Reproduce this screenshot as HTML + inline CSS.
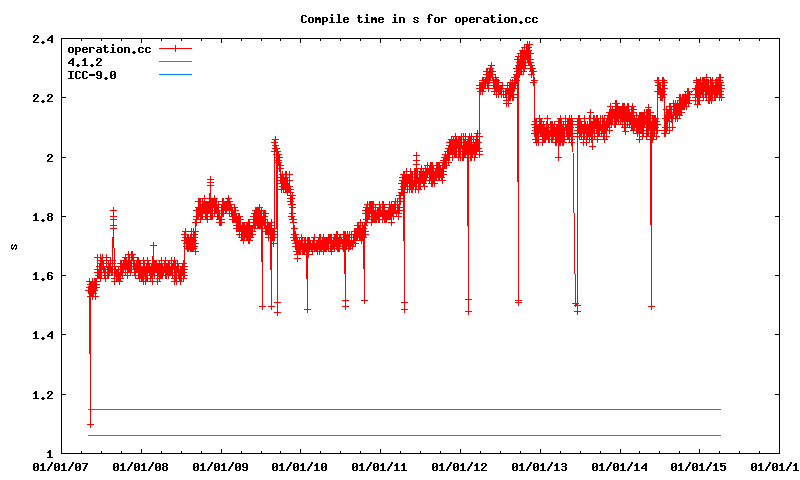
<!DOCTYPE html>
<html><head><meta charset="utf-8"><title>Compile time in s for operation.cc</title>
<style>
html,body{margin:0;padding:0;background:#fff;}
body{width:800px;height:480px;overflow:hidden;}
svg{display:block;}
</style></head><body>
<svg width="800" height="480" viewBox="0 0 800 480">
<rect width="800" height="480" fill="#fff"/>
<g shape-rendering="crispEdges" fill="none" stroke-width="1">
<path d="M61.5 38.5H779.5V453.5H61.5Z" stroke="#000"/>
<path d="M61 453.5h5M780 453.5h-5M61 394.5h5M780 394.5h-5M61 334.5h5M780 334.5h-5M61 275.5h5M780 275.5h-5M61 216.5h5M780 216.5h-5M61 157.5h5M780 157.5h-5M61 97.5h5M780 97.5h-5M61 38.5h5M780 38.5h-5M61.5 454v-5M61.5 38v5M81.5 454v-3M81.5 38v3M101.5 454v-3M101.5 38v3M121.5 454v-3M121.5 38v3M141.5 454v-5M141.5 38v5M161.5 454v-3M161.5 38v3M181.5 454v-3M181.5 38v3M201.5 454v-3M201.5 38v3M221.5 454v-5M221.5 38v5M241.5 454v-3M241.5 38v3M261.5 454v-3M261.5 38v3M280.5 454v-3M280.5 38v3M300.5 454v-5M300.5 38v5M320.5 454v-3M320.5 38v3M340.5 454v-3M340.5 38v3M360.5 454v-3M360.5 38v3M380.5 454v-5M380.5 38v5M400.5 454v-3M400.5 38v3M420.5 454v-3M420.5 38v3M440.5 454v-3M440.5 38v3M460.5 454v-5M460.5 38v5M480.5 454v-3M480.5 38v3M500.5 454v-3M500.5 38v3M520.5 454v-3M520.5 38v3M540.5 454v-5M540.5 38v5M560.5 454v-3M560.5 38v3M580.5 454v-3M580.5 38v3M600.5 454v-3M600.5 38v3M620.5 454v-5M620.5 38v5M639.5 454v-3M639.5 38v3M659.5 454v-3M659.5 38v3M679.5 454v-3M679.5 38v3M699.5 454v-5M699.5 38v5M719.5 454v-3M719.5 38v3M739.5 454v-3M739.5 38v3M759.5 454v-3M759.5 38v3M779.5 454v-5M779.5 38v5" stroke="#000"/>
<path d="M88 435.5H721" stroke="#00c000"/>
<path d="M88 409.5H721" stroke="#0080ff"/>
<path d="M159 48.5H192" stroke="#ff0000"/><path d="M175.5 45v7" stroke="#ff0000"/>
<path d="M159 61.5H192" stroke="#00c000"/>
<path d="M159 74.5H192" stroke="#0080ff"/>
<path d="M88.5 290.5L88.5 290.5L89.5 281.5L89.5 287.5L89.5 281.5L89.5 281.5L90.5 424.5L90.5 290.5L90.5 284.5L90.5 296.5L91.5 293.5L91.5 290.5L91.5 284.5L91.5 290.5L92.5 296.5L92.5 281.5L92.5 284.5L93.5 287.5L93.5 290.5L93.5 293.5L93.5 284.5L94.5 281.5L94.5 287.5L94.5 290.5L94.5 290.5L95.5 287.5L95.5 296.5L95.5 281.5L95.5 287.5L95.5 284.5L96.5 287.5L96.5 281.5L96.5 287.5L96.5 284.5L97.5 272.5L97.5 257.5L97.5 269.5L97.5 269.5L98.5 272.5L98.5 275.5L98.5 275.5L98.5 275.5L99.5 269.5L99.5 275.5L99.5 269.5L99.5 266.5L99.5 272.5L100.5 257.5L100.5 278.5L100.5 272.5L100.5 272.5L101.5 260.5L101.5 275.5L101.5 263.5L101.5 263.5L102.5 257.5L102.5 266.5L102.5 266.5L102.5 257.5L103.5 269.5L103.5 269.5L103.5 263.5L103.5 263.5L104.5 275.5L104.5 269.5L104.5 269.5L104.5 272.5L105.5 272.5L105.5 278.5L105.5 275.5L106.5 260.5L106.5 257.5L106.5 263.5L106.5 260.5L107.5 275.5L107.5 269.5L107.5 272.5L108.5 275.5L108.5 269.5L108.5 266.5L108.5 263.5L109.5 269.5L109.5 266.5L109.5 266.5L109.5 272.5L110.5 263.5L110.5 260.5L110.5 269.5L110.5 266.5L110.5 266.5L111.5 272.5L111.5 272.5L111.5 269.5L112.5 263.5L112.5 263.5L112.5 260.5L112.5 272.5L112.5 266.5L113.5 210.5L113.5 216.5L113.5 219.5L113.5 225.5L113.5 228.5L114.5 266.5L114.5 269.5L114.5 278.5L114.5 281.5L115.5 272.5L115.5 269.5L115.5 269.5L115.5 269.5L116.5 278.5L116.5 272.5L116.5 278.5L116.5 278.5L117.5 278.5L117.5 272.5L117.5 272.5L117.5 275.5L118.5 272.5L118.5 278.5L118.5 272.5L118.5 269.5L118.5 272.5L119.5 278.5L119.5 281.5L119.5 275.5L119.5 275.5L120.5 269.5L120.5 263.5L120.5 266.5L120.5 278.5L121.5 269.5L121.5 266.5L121.5 272.5L121.5 263.5L122.5 269.5L122.5 272.5L122.5 275.5L122.5 266.5L123.5 263.5L123.5 269.5L123.5 269.5L123.5 266.5L124.5 260.5L124.5 266.5L124.5 266.5L124.5 266.5L125.5 272.5L125.5 266.5L125.5 257.5L125.5 257.5L126.5 266.5L126.5 263.5L126.5 263.5L126.5 260.5L127.5 275.5L127.5 263.5L127.5 263.5L127.5 266.5L128.5 269.5L128.5 254.5L128.5 266.5L129.5 263.5L129.5 257.5L129.5 269.5L129.5 257.5L130.5 272.5L130.5 263.5L130.5 266.5L131.5 269.5L131.5 269.5L131.5 254.5L131.5 254.5L132.5 257.5L132.5 254.5L132.5 254.5L132.5 257.5L133.5 257.5L133.5 263.5L133.5 266.5L133.5 257.5L133.5 266.5L134.5 269.5L134.5 272.5L134.5 263.5L134.5 269.5L135.5 272.5L135.5 275.5L135.5 266.5L135.5 272.5L136.5 269.5L136.5 269.5L136.5 263.5L136.5 266.5L136.5 269.5L137.5 266.5L137.5 260.5L137.5 269.5L138.5 266.5L138.5 275.5L138.5 275.5L138.5 260.5L139.5 278.5L139.5 263.5L139.5 269.5L139.5 266.5L140.5 263.5L140.5 275.5L140.5 266.5L140.5 269.5L141.5 269.5L141.5 269.5L141.5 278.5L141.5 272.5L142.5 272.5L142.5 269.5L142.5 272.5L142.5 278.5L143.5 278.5L143.5 272.5L143.5 260.5L143.5 281.5L144.5 272.5L144.5 263.5L144.5 269.5L144.5 269.5L144.5 269.5L145.5 269.5L145.5 281.5L145.5 272.5L146.5 278.5L146.5 269.5L146.5 272.5L146.5 266.5L147.5 269.5L147.5 260.5L147.5 278.5L147.5 272.5L148.5 269.5L148.5 266.5L148.5 263.5L148.5 269.5L148.5 269.5L149.5 266.5L149.5 272.5L149.5 266.5L150.5 278.5L150.5 278.5L150.5 269.5L151.5 266.5L151.5 275.5L151.5 272.5L151.5 266.5L152.5 281.5L152.5 272.5L152.5 266.5L152.5 266.5L153.5 245.5L153.5 269.5L153.5 263.5L153.5 269.5L153.5 272.5L154.5 275.5L154.5 275.5L154.5 263.5L155.5 266.5L155.5 263.5L155.5 266.5L155.5 269.5L156.5 266.5L156.5 269.5L156.5 266.5L156.5 263.5L156.5 266.5L157.5 275.5L157.5 266.5L157.5 269.5L157.5 281.5L158.5 272.5L158.5 266.5L158.5 272.5L158.5 272.5L159.5 278.5L159.5 263.5L159.5 269.5L159.5 275.5L160.5 275.5L160.5 266.5L160.5 266.5L160.5 272.5L161.5 269.5L161.5 272.5L161.5 260.5L161.5 269.5L161.5 275.5L162.5 275.5L162.5 266.5L162.5 272.5L162.5 275.5L163.5 269.5L163.5 272.5L163.5 269.5L163.5 269.5L164.5 263.5L164.5 266.5L164.5 269.5L164.5 269.5L165.5 260.5L165.5 275.5L165.5 272.5L165.5 275.5L166.5 266.5L166.5 272.5L166.5 266.5L166.5 275.5L167.5 266.5L167.5 272.5L167.5 266.5L167.5 272.5L168.5 272.5L168.5 275.5L168.5 263.5L169.5 263.5L169.5 266.5L169.5 272.5L169.5 269.5L169.5 269.5L170.5 272.5L170.5 269.5L170.5 269.5L171.5 272.5L171.5 272.5L171.5 272.5L171.5 260.5L172.5 266.5L172.5 266.5L172.5 272.5L172.5 275.5L173.5 263.5L173.5 266.5L173.5 266.5L173.5 266.5L174.5 260.5L174.5 278.5L174.5 260.5L174.5 281.5L175.5 275.5L175.5 263.5L175.5 272.5L175.5 272.5L175.5 278.5L176.5 281.5L176.5 269.5L176.5 269.5L176.5 272.5L177.5 263.5L177.5 269.5L177.5 263.5L177.5 263.5L178.5 269.5L178.5 272.5L178.5 275.5L178.5 266.5L178.5 266.5L179.5 272.5L179.5 275.5L179.5 278.5L180.5 269.5L180.5 272.5L180.5 272.5L180.5 281.5L180.5 272.5L181.5 269.5L181.5 272.5L181.5 278.5L182.5 269.5L182.5 272.5L182.5 266.5L182.5 266.5L183.5 278.5L183.5 263.5L183.5 272.5L183.5 266.5L184.5 269.5L184.5 275.5L184.5 266.5L184.5 240.5L184.5 234.5L185.5 231.5L185.5 234.5L185.5 237.5L185.5 240.5L186.5 240.5L186.5 240.5L186.5 243.5L186.5 246.5L187.5 237.5L187.5 243.5L187.5 248.5L187.5 237.5L188.5 248.5L188.5 237.5L188.5 243.5L188.5 240.5L189.5 243.5L189.5 246.5L189.5 240.5L189.5 240.5L190.5 246.5L190.5 237.5L190.5 240.5L190.5 248.5L191.5 240.5L191.5 240.5L191.5 240.5L191.5 231.5L191.5 248.5L192.5 240.5L192.5 240.5L192.5 248.5L193.5 240.5L193.5 234.5L193.5 231.5L193.5 240.5L193.5 248.5L194.5 246.5L194.5 237.5L194.5 234.5L194.5 234.5L194.5 234.5L195.5 251.5L195.5 243.5L195.5 231.5L195.5 222.5L196.5 222.5L196.5 219.5L196.5 210.5L196.5 219.5L196.5 216.5L197.5 210.5L197.5 216.5L197.5 210.5L198.5 207.5L198.5 201.5L198.5 201.5L198.5 216.5L198.5 207.5L199.5 207.5L199.5 213.5L199.5 207.5L199.5 201.5L199.5 210.5L200.5 219.5L200.5 213.5L200.5 201.5L200.5 210.5L201.5 207.5L201.5 216.5L201.5 210.5L201.5 210.5L202.5 201.5L202.5 207.5L202.5 216.5L202.5 216.5L203.5 210.5L203.5 207.5L203.5 204.5L203.5 207.5L204.5 210.5L204.5 198.5L204.5 207.5L205.5 216.5L205.5 204.5L205.5 216.5L205.5 204.5L205.5 207.5L206.5 204.5L206.5 216.5L206.5 204.5L206.5 204.5L206.5 210.5L207.5 204.5L207.5 219.5L207.5 207.5L208.5 210.5L208.5 204.5L208.5 207.5L208.5 207.5L209.5 210.5L209.5 207.5L209.5 198.5L209.5 207.5L210.5 179.5L210.5 182.5L210.5 185.5L210.5 216.5L210.5 213.5L210.5 207.5L210.5 204.5L210.5 210.5L211.5 201.5L211.5 216.5L211.5 201.5L212.5 201.5L212.5 210.5L212.5 216.5L212.5 207.5L212.5 210.5L213.5 201.5L213.5 204.5L213.5 201.5L214.5 198.5L214.5 207.5L214.5 198.5L214.5 213.5L214.5 213.5L215.5 207.5L215.5 210.5L215.5 201.5L215.5 201.5L216.5 201.5L216.5 210.5L216.5 204.5L216.5 207.5L217.5 216.5L217.5 210.5L217.5 207.5L217.5 210.5L218.5 213.5L218.5 204.5L218.5 213.5L218.5 216.5L219.5 219.5L219.5 222.5L219.5 216.5L219.5 213.5L220.5 219.5L220.5 222.5L220.5 219.5L221.5 222.5L221.5 213.5L221.5 219.5L221.5 210.5L221.5 207.5L222.5 213.5L222.5 213.5L222.5 213.5L222.5 201.5L223.5 204.5L223.5 201.5L223.5 213.5L224.5 207.5L224.5 207.5L224.5 204.5L224.5 207.5L225.5 204.5L225.5 204.5L225.5 204.5L225.5 210.5L226.5 207.5L226.5 204.5L226.5 210.5L227.5 207.5L227.5 207.5L227.5 201.5L227.5 207.5L228.5 207.5L228.5 198.5L228.5 207.5L228.5 207.5L229.5 201.5L229.5 213.5L229.5 204.5L229.5 204.5L230.5 207.5L230.5 204.5L230.5 207.5L231.5 207.5L231.5 210.5L231.5 210.5L231.5 213.5L232.5 219.5L232.5 210.5L232.5 213.5L232.5 216.5L233.5 216.5L233.5 219.5L233.5 213.5L233.5 213.5L234.5 207.5L234.5 216.5L234.5 219.5L234.5 216.5L235.5 219.5L235.5 213.5L235.5 210.5L235.5 219.5L236.5 219.5L236.5 228.5L236.5 225.5L236.5 216.5L237.5 219.5L237.5 228.5L237.5 228.5L237.5 225.5L238.5 219.5L238.5 219.5L238.5 216.5L238.5 228.5L239.5 225.5L239.5 219.5L239.5 216.5L239.5 234.5L240.5 228.5L240.5 225.5L240.5 228.5L240.5 219.5L241.5 237.5L241.5 234.5L241.5 228.5L242.5 225.5L242.5 237.5L242.5 231.5L242.5 225.5L243.5 237.5L243.5 240.5L243.5 228.5L243.5 225.5L244.5 225.5L244.5 234.5L244.5 237.5L244.5 225.5L244.5 228.5L245.5 234.5L245.5 231.5L245.5 231.5L245.5 228.5L246.5 225.5L246.5 237.5L246.5 231.5L246.5 231.5L246.5 228.5L247.5 231.5L247.5 225.5L247.5 225.5L247.5 237.5L248.5 231.5L248.5 240.5L248.5 222.5L248.5 228.5L249.5 225.5L249.5 225.5L249.5 222.5L249.5 240.5L250.5 231.5L250.5 237.5L250.5 237.5L250.5 228.5L251.5 228.5L251.5 231.5L251.5 234.5L252.5 234.5L252.5 234.5L252.5 231.5L252.5 231.5L252.5 234.5L253.5 216.5L253.5 222.5L253.5 225.5L253.5 219.5L254.5 228.5L254.5 225.5L254.5 228.5L254.5 213.5L254.5 225.5L255.5 225.5L255.5 210.5L255.5 216.5L255.5 216.5L256.5 219.5L256.5 222.5L256.5 213.5L256.5 210.5L257.5 225.5L257.5 216.5L257.5 216.5L257.5 210.5L258.5 219.5L258.5 225.5L258.5 210.5L258.5 219.5L259.5 225.5L259.5 207.5L259.5 219.5L259.5 213.5L260.5 225.5L260.5 216.5L260.5 213.5L260.5 222.5L261.5 222.5L261.5 213.5L261.5 210.5L261.5 213.5L262.5 306.5L262.5 219.5L262.5 219.5L262.5 222.5L263.5 216.5L263.5 219.5L263.5 222.5L263.5 213.5L264.5 213.5L264.5 225.5L264.5 216.5L264.5 219.5L264.5 216.5L265.5 222.5L265.5 213.5L265.5 231.5L265.5 222.5L265.5 222.5L266.5 231.5L266.5 231.5L266.5 228.5L267.5 231.5L267.5 222.5L267.5 231.5L267.5 231.5L268.5 237.5L268.5 231.5L268.5 231.5L268.5 225.5L269.5 228.5L269.5 225.5L269.5 231.5L270.5 225.5L270.5 228.5L270.5 234.5L270.5 231.5L271.5 306.5L271.5 231.5L271.5 222.5L271.5 237.5L271.5 225.5L271.5 225.5L272.5 231.5L272.5 237.5L272.5 231.5L273.5 234.5L273.5 243.5L273.5 231.5L273.5 231.5L274.5 228.5L274.5 237.5L274.5 142.5L274.5 142.5L274.5 151.5L275.5 139.5L275.5 148.5L275.5 148.5L275.5 145.5L275.5 148.5L276.5 154.5L276.5 148.5L276.5 154.5L276.5 148.5L277.5 302.5L277.5 312.5L277.5 151.5L277.5 154.5L277.5 157.5L277.5 157.5L278.5 154.5L278.5 162.5L278.5 160.5L278.5 157.5L279.5 168.5L279.5 165.5L279.5 157.5L279.5 168.5L280.5 165.5L280.5 168.5L280.5 180.5L281.5 177.5L281.5 189.5L281.5 183.5L281.5 189.5L282.5 180.5L282.5 174.5L282.5 186.5L282.5 183.5L283.5 189.5L283.5 180.5L283.5 177.5L283.5 180.5L284.5 180.5L284.5 180.5L284.5 180.5L284.5 186.5L285.5 174.5L285.5 189.5L285.5 180.5L286.5 189.5L286.5 174.5L286.5 177.5L286.5 174.5L287.5 192.5L287.5 180.5L287.5 180.5L287.5 180.5L288.5 189.5L288.5 189.5L288.5 186.5L289.5 180.5L289.5 174.5L289.5 186.5L289.5 189.5L290.5 189.5L290.5 201.5L290.5 198.5L290.5 192.5L290.5 195.5L291.5 198.5L291.5 204.5L291.5 216.5L292.5 195.5L292.5 219.5L292.5 204.5L292.5 207.5L292.5 213.5L293.5 222.5L293.5 219.5L293.5 222.5L293.5 237.5L294.5 228.5L294.5 240.5L294.5 234.5L295.5 234.5L295.5 243.5L295.5 240.5L295.5 246.5L295.5 243.5L296.5 237.5L296.5 251.5L296.5 237.5L296.5 246.5L297.5 258.5L297.5 240.5L297.5 251.5L297.5 240.5L297.5 254.5L298.5 243.5L298.5 248.5L298.5 248.5L298.5 248.5L298.5 251.5L299.5 240.5L299.5 251.5L299.5 243.5L299.5 240.5L300.5 251.5L300.5 243.5L300.5 248.5L300.5 243.5L301.5 246.5L301.5 237.5L301.5 237.5L301.5 246.5L302.5 248.5L302.5 251.5L302.5 248.5L302.5 240.5L302.5 248.5L303.5 248.5L303.5 251.5L303.5 246.5L303.5 248.5L304.5 251.5L304.5 246.5L304.5 240.5L304.5 246.5L305.5 243.5L305.5 240.5L305.5 243.5L305.5 246.5L305.5 248.5L306.5 251.5L306.5 248.5L306.5 246.5L307.5 309.5L307.5 240.5L307.5 248.5L307.5 246.5L307.5 246.5L307.5 254.5L308.5 240.5L308.5 246.5L308.5 254.5L309.5 240.5L309.5 246.5L309.5 248.5L309.5 246.5L310.5 243.5L310.5 246.5L310.5 246.5L310.5 246.5L311.5 248.5L311.5 246.5L311.5 246.5L311.5 248.5L312.5 251.5L312.5 251.5L312.5 243.5L312.5 251.5L312.5 243.5L313.5 240.5L313.5 246.5L313.5 240.5L313.5 246.5L314.5 248.5L314.5 248.5L314.5 237.5L314.5 240.5L315.5 246.5L315.5 248.5L315.5 246.5L315.5 248.5L316.5 243.5L316.5 248.5L316.5 248.5L316.5 248.5L316.5 243.5L317.5 246.5L317.5 243.5L317.5 246.5L317.5 251.5L318.5 240.5L318.5 240.5L318.5 246.5L319.5 237.5L319.5 246.5L319.5 246.5L319.5 251.5L320.5 237.5L320.5 243.5L320.5 248.5L320.5 243.5L321.5 248.5L321.5 246.5L321.5 246.5L321.5 243.5L322.5 246.5L322.5 240.5L322.5 246.5L323.5 246.5L323.5 243.5L323.5 237.5L323.5 251.5L324.5 240.5L324.5 248.5L324.5 248.5L324.5 243.5L324.5 240.5L325.5 240.5L325.5 248.5L325.5 246.5L325.5 248.5L325.5 243.5L326.5 240.5L326.5 246.5L326.5 248.5L327.5 243.5L327.5 240.5L327.5 243.5L327.5 246.5L327.5 240.5L328.5 240.5L328.5 248.5L328.5 237.5L328.5 237.5L329.5 237.5L329.5 240.5L329.5 237.5L330.5 243.5L330.5 237.5L330.5 248.5L330.5 240.5L331.5 237.5L331.5 243.5L331.5 237.5L331.5 251.5L332.5 243.5L332.5 246.5L332.5 243.5L332.5 243.5L333.5 246.5L333.5 243.5L333.5 240.5L333.5 246.5L334.5 248.5L334.5 237.5L334.5 240.5L335.5 243.5L335.5 240.5L335.5 237.5L335.5 243.5L336.5 243.5L336.5 237.5L336.5 240.5L336.5 246.5L336.5 234.5L337.5 234.5L337.5 248.5L337.5 237.5L337.5 243.5L338.5 243.5L338.5 240.5L338.5 248.5L338.5 243.5L339.5 248.5L339.5 237.5L339.5 246.5L340.5 237.5L340.5 243.5L340.5 240.5L340.5 243.5L341.5 240.5L341.5 240.5L341.5 240.5L341.5 240.5L342.5 243.5L342.5 243.5L342.5 246.5L342.5 243.5L343.5 234.5L343.5 248.5L343.5 248.5L343.5 246.5L343.5 243.5L344.5 243.5L344.5 234.5L344.5 246.5L344.5 246.5L345.5 300.5L345.5 306.5L345.5 237.5L345.5 234.5L345.5 240.5L345.5 237.5L346.5 240.5L346.5 240.5L346.5 240.5L346.5 246.5L346.5 237.5L347.5 240.5L347.5 234.5L347.5 243.5L347.5 237.5L348.5 243.5L348.5 237.5L348.5 248.5L348.5 243.5L349.5 234.5L349.5 237.5L349.5 243.5L349.5 246.5L350.5 243.5L350.5 243.5L350.5 243.5L350.5 246.5L351.5 234.5L351.5 240.5L351.5 243.5L351.5 237.5L351.5 243.5L352.5 246.5L352.5 243.5L352.5 246.5L353.5 237.5L353.5 243.5L353.5 243.5L353.5 237.5L354.5 240.5L354.5 231.5L354.5 234.5L354.5 240.5L355.5 237.5L355.5 243.5L355.5 231.5L355.5 237.5L356.5 231.5L356.5 234.5L356.5 237.5L357.5 237.5L357.5 237.5L357.5 225.5L357.5 225.5L358.5 228.5L358.5 234.5L358.5 231.5L358.5 228.5L358.5 225.5L359.5 234.5L359.5 234.5L359.5 228.5L359.5 228.5L359.5 237.5L360.5 228.5L360.5 222.5L360.5 225.5L360.5 237.5L361.5 240.5L361.5 231.5L361.5 231.5L362.5 237.5L362.5 225.5L362.5 234.5L362.5 234.5L363.5 231.5L363.5 228.5L363.5 237.5L363.5 234.5L364.5 300.5L364.5 225.5L364.5 231.5L364.5 231.5L364.5 234.5L364.5 231.5L365.5 234.5L365.5 231.5L365.5 210.5L365.5 213.5L366.5 210.5L366.5 222.5L366.5 207.5L366.5 219.5L367.5 219.5L367.5 219.5L367.5 204.5L367.5 204.5L368.5 210.5L368.5 216.5L368.5 216.5L368.5 216.5L368.5 213.5L369.5 207.5L369.5 207.5L369.5 204.5L369.5 216.5L370.5 207.5L370.5 204.5L370.5 210.5L371.5 204.5L371.5 216.5L371.5 216.5L371.5 222.5L372.5 213.5L372.5 207.5L372.5 204.5L372.5 219.5L373.5 210.5L373.5 210.5L373.5 204.5L373.5 219.5L373.5 210.5L374.5 213.5L374.5 219.5L374.5 213.5L375.5 219.5L375.5 216.5L375.5 219.5L375.5 207.5L376.5 216.5L376.5 216.5L376.5 219.5L377.5 216.5L377.5 216.5L377.5 210.5L377.5 210.5L378.5 213.5L378.5 210.5L378.5 219.5L378.5 210.5L379.5 213.5L379.5 216.5L379.5 204.5L379.5 219.5L379.5 216.5L380.5 210.5L380.5 213.5L380.5 207.5L381.5 213.5L381.5 213.5L381.5 213.5L382.5 216.5L382.5 219.5L382.5 216.5L382.5 204.5L383.5 210.5L383.5 204.5L383.5 216.5L383.5 213.5L384.5 219.5L384.5 207.5L384.5 219.5L384.5 207.5L385.5 213.5L385.5 213.5L385.5 213.5L385.5 219.5L386.5 219.5L386.5 219.5L386.5 213.5L386.5 216.5L387.5 213.5L387.5 216.5L387.5 213.5L387.5 213.5L388.5 213.5L388.5 216.5L388.5 210.5L389.5 204.5L389.5 213.5L389.5 216.5L389.5 204.5L390.5 210.5L390.5 210.5L390.5 207.5L390.5 216.5L390.5 213.5L391.5 210.5L391.5 222.5L391.5 213.5L391.5 204.5L392.5 213.5L392.5 207.5L392.5 207.5L392.5 210.5L392.5 213.5L393.5 207.5L393.5 216.5L393.5 213.5L393.5 216.5L394.5 210.5L394.5 210.5L394.5 210.5L394.5 204.5L395.5 210.5L395.5 210.5L395.5 207.5L395.5 201.5L395.5 210.5L396.5 213.5L396.5 213.5L396.5 213.5L397.5 207.5L397.5 210.5L397.5 201.5L398.5 213.5L398.5 216.5L398.5 216.5L398.5 207.5L399.5 210.5L399.5 207.5L399.5 207.5L399.5 195.5L399.5 195.5L400.5 201.5L400.5 198.5L400.5 195.5L400.5 195.5L400.5 195.5L401.5 192.5L401.5 189.5L401.5 189.5L401.5 183.5L402.5 192.5L402.5 192.5L402.5 177.5L402.5 180.5L403.5 180.5L403.5 192.5L403.5 186.5L403.5 186.5L403.5 174.5L404.5 302.5L404.5 309.5L404.5 189.5L404.5 174.5L404.5 189.5L405.5 177.5L405.5 186.5L405.5 180.5L405.5 180.5L406.5 174.5L406.5 177.5L406.5 180.5L406.5 171.5L406.5 183.5L407.5 180.5L407.5 177.5L407.5 183.5L407.5 189.5L407.5 186.5L408.5 177.5L408.5 180.5L408.5 180.5L409.5 177.5L409.5 183.5L409.5 189.5L409.5 183.5L410.5 171.5L410.5 180.5L410.5 180.5L410.5 186.5L411.5 174.5L411.5 186.5L411.5 189.5L411.5 180.5L412.5 189.5L412.5 174.5L412.5 186.5L412.5 174.5L412.5 177.5L413.5 183.5L413.5 183.5L413.5 183.5L413.5 186.5L414.5 183.5L414.5 183.5L414.5 183.5L414.5 171.5L415.5 186.5L415.5 177.5L415.5 189.5L415.5 180.5L416.5 155.5L416.5 160.5L416.5 164.5L416.5 186.5L416.5 183.5L416.5 186.5L416.5 180.5L417.5 174.5L417.5 171.5L417.5 171.5L417.5 177.5L418.5 189.5L418.5 180.5L418.5 183.5L418.5 186.5L419.5 174.5L419.5 174.5L419.5 186.5L420.5 183.5L420.5 186.5L420.5 174.5L420.5 180.5L420.5 174.5L420.5 171.5L421.5 180.5L421.5 171.5L421.5 168.5L422.5 180.5L422.5 177.5L422.5 180.5L422.5 174.5L423.5 183.5L423.5 180.5L423.5 171.5L423.5 171.5L423.5 177.5L424.5 177.5L424.5 174.5L424.5 180.5L424.5 186.5L425.5 180.5L425.5 174.5L425.5 168.5L425.5 174.5L426.5 171.5L426.5 171.5L426.5 177.5L426.5 171.5L427.5 168.5L427.5 171.5L427.5 174.5L427.5 165.5L428.5 171.5L428.5 171.5L428.5 171.5L428.5 171.5L429.5 168.5L429.5 180.5L429.5 171.5L429.5 168.5L430.5 168.5L430.5 165.5L430.5 177.5L430.5 171.5L431.5 177.5L431.5 180.5L431.5 183.5L431.5 165.5L432.5 165.5L432.5 183.5L432.5 177.5L432.5 180.5L433.5 180.5L433.5 174.5L433.5 177.5L433.5 168.5L433.5 174.5L434.5 174.5L434.5 177.5L434.5 177.5L434.5 183.5L434.5 180.5L435.5 171.5L435.5 177.5L435.5 171.5L435.5 171.5L436.5 165.5L436.5 177.5L436.5 174.5L436.5 174.5L436.5 168.5L437.5 165.5L437.5 165.5L437.5 171.5L437.5 174.5L438.5 174.5L438.5 165.5L438.5 177.5L438.5 171.5L439.5 177.5L439.5 171.5L439.5 165.5L439.5 177.5L440.5 171.5L440.5 168.5L440.5 174.5L440.5 174.5L441.5 174.5L441.5 171.5L441.5 177.5L441.5 177.5L442.5 174.5L442.5 165.5L442.5 180.5L443.5 162.5L443.5 160.5L443.5 171.5L443.5 174.5L444.5 162.5L444.5 160.5L444.5 165.5L444.5 165.5L444.5 157.5L445.5 160.5L445.5 165.5L445.5 162.5L445.5 154.5L446.5 165.5L446.5 160.5L446.5 157.5L446.5 160.5L447.5 157.5L447.5 151.5L447.5 154.5L448.5 162.5L448.5 148.5L448.5 151.5L448.5 157.5L449.5 157.5L449.5 157.5L449.5 142.5L449.5 151.5L449.5 145.5L450.5 142.5L450.5 151.5L450.5 145.5L451.5 148.5L451.5 148.5L451.5 139.5L451.5 151.5L451.5 142.5L452.5 142.5L452.5 157.5L452.5 154.5L452.5 157.5L453.5 151.5L453.5 139.5L453.5 139.5L454.5 142.5L454.5 142.5L454.5 154.5L454.5 142.5L455.5 139.5L455.5 145.5L455.5 136.5L455.5 148.5L455.5 154.5L456.5 139.5L456.5 145.5L456.5 148.5L456.5 154.5L457.5 142.5L457.5 145.5L457.5 145.5L458.5 151.5L458.5 148.5L458.5 157.5L458.5 139.5L459.5 139.5L459.5 151.5L459.5 145.5L459.5 154.5L460.5 157.5L460.5 139.5L460.5 142.5L461.5 145.5L461.5 139.5L461.5 145.5L461.5 136.5L462.5 154.5L462.5 157.5L462.5 151.5L463.5 145.5L463.5 136.5L463.5 157.5L463.5 136.5L464.5 145.5L464.5 154.5L464.5 151.5L464.5 142.5L465.5 154.5L465.5 154.5L465.5 136.5L466.5 145.5L466.5 145.5L466.5 151.5L466.5 145.5L467.5 142.5L467.5 142.5L467.5 148.5L468.5 299.5L468.5 311.5L468.5 148.5L468.5 142.5L468.5 139.5L468.5 151.5L469.5 145.5L469.5 136.5L469.5 151.5L469.5 151.5L470.5 142.5L470.5 157.5L470.5 139.5L470.5 139.5L471.5 157.5L471.5 145.5L471.5 145.5L471.5 136.5L471.5 139.5L472.5 148.5L472.5 154.5L472.5 151.5L472.5 148.5L473.5 139.5L473.5 151.5L473.5 142.5L473.5 139.5L474.5 148.5L474.5 145.5L474.5 157.5L474.5 145.5L475.5 148.5L475.5 142.5L475.5 154.5L475.5 151.5L476.5 151.5L476.5 142.5L476.5 136.5L476.5 136.5L477.5 142.5L477.5 133.5L477.5 148.5L478.5 148.5L478.5 148.5L478.5 142.5L478.5 142.5L479.5 136.5L479.5 151.5L479.5 154.5L479.5 88.5L479.5 85.5L480.5 88.5L480.5 85.5L480.5 91.5L480.5 91.5L481.5 85.5L481.5 88.5L481.5 85.5L482.5 91.5L482.5 82.5L482.5 80.5L482.5 88.5L482.5 88.5L483.5 88.5L483.5 80.5L483.5 82.5L483.5 85.5L484.5 82.5L484.5 82.5L484.5 85.5L484.5 82.5L485.5 82.5L485.5 80.5L485.5 80.5L485.5 85.5L486.5 80.5L486.5 77.5L486.5 74.5L486.5 71.5L487.5 74.5L487.5 85.5L487.5 80.5L487.5 71.5L488.5 74.5L488.5 77.5L488.5 88.5L489.5 77.5L489.5 77.5L489.5 80.5L489.5 71.5L490.5 68.5L490.5 71.5L490.5 77.5L490.5 71.5L491.5 65.5L491.5 74.5L491.5 74.5L491.5 71.5L492.5 77.5L492.5 71.5L492.5 77.5L492.5 77.5L493.5 80.5L493.5 82.5L493.5 80.5L493.5 85.5L494.5 91.5L494.5 85.5L494.5 85.5L494.5 82.5L495.5 77.5L495.5 88.5L495.5 77.5L495.5 85.5L495.5 80.5L496.5 88.5L496.5 85.5L496.5 94.5L496.5 80.5L497.5 88.5L497.5 82.5L497.5 85.5L497.5 88.5L498.5 82.5L498.5 88.5L498.5 94.5L498.5 91.5L499.5 91.5L499.5 91.5L499.5 88.5L499.5 91.5L500.5 91.5L500.5 91.5L500.5 88.5L501.5 88.5L501.5 88.5L501.5 94.5L501.5 88.5L502.5 85.5L503.5 94.5L505.5 94.5L505.5 91.5L506.5 100.5L506.5 97.5L506.5 103.5L506.5 91.5L507.5 91.5L507.5 85.5L507.5 88.5L507.5 91.5L508.5 97.5L508.5 91.5L508.5 103.5L509.5 88.5L509.5 85.5L509.5 85.5L509.5 97.5L510.5 82.5L510.5 88.5L510.5 88.5L510.5 97.5L511.5 85.5L511.5 85.5L511.5 94.5L512.5 97.5L512.5 97.5L512.5 85.5L512.5 82.5L513.5 94.5L513.5 85.5L513.5 97.5L513.5 94.5L514.5 88.5L514.5 80.5L514.5 77.5L514.5 88.5L515.5 85.5L515.5 80.5L515.5 77.5L516.5 80.5L516.5 74.5L516.5 77.5L516.5 80.5L516.5 68.5L517.5 74.5L517.5 71.5L517.5 59.5L518.5 300.5L518.5 302.5L518.5 65.5L518.5 65.5L518.5 56.5L518.5 74.5L519.5 74.5L519.5 74.5L519.5 71.5L519.5 62.5L520.5 71.5L520.5 53.5L520.5 59.5L520.5 59.5L520.5 53.5L521.5 59.5L521.5 71.5L521.5 53.5L521.5 68.5L522.5 62.5L522.5 65.5L522.5 50.5L523.5 71.5L523.5 53.5L523.5 62.5L523.5 56.5L523.5 56.5L524.5 68.5L524.5 59.5L524.5 47.5L524.5 65.5L525.5 65.5L525.5 53.5L525.5 65.5L525.5 53.5L526.5 56.5L526.5 53.5L526.5 50.5L526.5 56.5L526.5 47.5L527.5 59.5L527.5 53.5L527.5 44.5L527.5 59.5L528.5 47.5L528.5 62.5L528.5 50.5L528.5 62.5L529.5 44.5L529.5 62.5L529.5 53.5L529.5 62.5L530.5 62.5L530.5 53.5L530.5 68.5L530.5 68.5L530.5 59.5L531.5 65.5L531.5 74.5L532.5 68.5L532.5 71.5L533.5 71.5L533.5 82.5L534.5 80.5L534.5 124.5L534.5 133.5L535.5 121.5L535.5 127.5L535.5 139.5L535.5 130.5L536.5 121.5L536.5 121.5L536.5 124.5L536.5 142.5L537.5 139.5L537.5 136.5L537.5 130.5L537.5 127.5L538.5 133.5L538.5 142.5L538.5 127.5L538.5 133.5L539.5 118.5L539.5 130.5L539.5 127.5L539.5 121.5L540.5 133.5L540.5 130.5L540.5 121.5L540.5 124.5L541.5 127.5L541.5 121.5L541.5 130.5L541.5 130.5L541.5 130.5L542.5 142.5L542.5 130.5L542.5 127.5L542.5 139.5L543.5 130.5L543.5 139.5L543.5 124.5L544.5 133.5L544.5 139.5L544.5 127.5L544.5 130.5L544.5 133.5L545.5 130.5L545.5 139.5L545.5 133.5L546.5 136.5L546.5 130.5L546.5 127.5L546.5 136.5L546.5 124.5L547.5 136.5L547.5 118.5L547.5 133.5L547.5 133.5L548.5 127.5L548.5 127.5L548.5 130.5L548.5 139.5L549.5 139.5L549.5 136.5L549.5 133.5L549.5 139.5L550.5 130.5L550.5 124.5L550.5 133.5L550.5 133.5L550.5 133.5L551.5 139.5L551.5 127.5L551.5 127.5L551.5 124.5L552.5 136.5L552.5 124.5L552.5 130.5L552.5 139.5L553.5 133.5L553.5 133.5L553.5 127.5L553.5 136.5L554.5 124.5L554.5 133.5L554.5 130.5L555.5 139.5L555.5 133.5L555.5 136.5L555.5 130.5L555.5 142.5L556.5 127.5L556.5 142.5L556.5 139.5L557.5 139.5L557.5 130.5L557.5 133.5L557.5 127.5L558.5 157.5L558.5 130.5L558.5 127.5L558.5 121.5L558.5 124.5L559.5 127.5L559.5 142.5L559.5 121.5L559.5 133.5L560.5 139.5L560.5 142.5L560.5 130.5L560.5 118.5L561.5 139.5L561.5 130.5L561.5 121.5L562.5 130.5L562.5 130.5L562.5 142.5L562.5 127.5L563.5 124.5L563.5 124.5L563.5 142.5L563.5 127.5L564.5 136.5L564.5 133.5L564.5 130.5L564.5 130.5L564.5 139.5L564.5 139.5L565.5 118.5L565.5 127.5L565.5 127.5L566.5 130.5L566.5 127.5L566.5 133.5L567.5 127.5L567.5 136.5L567.5 124.5L567.5 121.5L568.5 136.5L568.5 136.5L568.5 127.5L568.5 121.5L568.5 127.5L569.5 139.5L569.5 118.5L569.5 133.5L570.5 133.5L570.5 127.5L570.5 124.5L570.5 121.5L571.5 139.5L571.5 142.5L571.5 124.5L571.5 118.5L571.5 124.5L572.5 133.5L572.5 136.5L572.5 121.5L575.5 303.5L577.5 305.5L577.5 311.5L577.5 130.5L577.5 133.5L577.5 121.5L577.5 133.5L578.5 124.5L578.5 127.5L578.5 118.5L578.5 130.5L578.5 127.5L579.5 130.5L579.5 121.5L579.5 136.5L579.5 118.5L579.5 136.5L580.5 127.5L580.5 133.5L580.5 130.5L580.5 121.5L581.5 136.5L581.5 133.5L581.5 136.5L581.5 124.5L582.5 127.5L582.5 127.5L582.5 127.5L582.5 130.5L583.5 136.5L583.5 139.5L583.5 127.5L583.5 142.5L584.5 136.5L584.5 127.5L584.5 133.5L584.5 118.5L585.5 124.5L585.5 130.5L585.5 127.5L586.5 133.5L586.5 127.5L586.5 142.5L586.5 130.5L586.5 130.5L587.5 124.5L587.5 127.5L587.5 124.5L587.5 136.5L588.5 127.5L588.5 127.5L588.5 130.5L588.5 133.5L589.5 118.5L589.5 139.5L589.5 139.5L589.5 133.5L590.5 112.5L590.5 133.5L590.5 133.5L590.5 130.5L590.5 130.5L591.5 133.5L591.5 124.5L591.5 130.5L591.5 139.5L592.5 146.5L592.5 139.5L592.5 127.5L592.5 136.5L592.5 130.5L592.5 124.5L592.5 130.5L593.5 124.5L593.5 130.5L593.5 118.5L593.5 121.5L594.5 118.5L594.5 136.5L594.5 130.5L594.5 133.5L595.5 124.5L595.5 121.5L595.5 124.5L596.5 130.5L596.5 118.5L596.5 130.5L596.5 130.5L597.5 130.5L597.5 118.5L597.5 139.5L597.5 124.5L598.5 133.5L598.5 121.5L598.5 121.5L598.5 130.5L599.5 127.5L599.5 124.5L599.5 133.5L600.5 124.5L600.5 118.5L600.5 124.5L600.5 127.5L600.5 127.5L601.5 127.5L601.5 133.5L601.5 133.5L602.5 118.5L602.5 130.5L602.5 130.5L603.5 136.5L603.5 133.5L603.5 130.5L603.5 124.5L603.5 121.5L604.5 130.5L604.5 127.5L604.5 139.5L604.5 118.5L604.5 124.5L605.5 130.5L605.5 124.5L605.5 124.5L606.5 136.5L606.5 121.5L606.5 130.5L607.5 127.5L607.5 124.5L607.5 118.5L607.5 127.5L608.5 124.5L608.5 115.5L608.5 121.5L609.5 112.5L609.5 130.5L609.5 118.5L609.5 115.5L609.5 121.5L610.5 121.5L610.5 112.5L610.5 106.5L611.5 115.5L611.5 124.5L611.5 112.5L611.5 124.5L611.5 118.5L612.5 121.5L612.5 118.5L612.5 109.5L612.5 115.5L613.5 115.5L613.5 112.5L613.5 115.5L614.5 112.5L614.5 124.5L614.5 115.5L614.5 112.5L614.5 118.5L615.5 124.5L615.5 124.5L615.5 112.5L615.5 103.5L616.5 103.5L616.5 109.5L616.5 121.5L616.5 112.5L616.5 115.5L617.5 106.5L617.5 106.5L617.5 118.5L618.5 115.5L618.5 115.5L618.5 121.5L618.5 109.5L619.5 109.5L619.5 109.5L619.5 109.5L619.5 112.5L619.5 115.5L620.5 118.5L620.5 109.5L620.5 112.5L620.5 121.5L621.5 109.5L621.5 115.5L621.5 118.5L621.5 115.5L622.5 124.5L622.5 112.5L622.5 109.5L622.5 106.5L623.5 112.5L623.5 118.5L623.5 112.5L623.5 106.5L624.5 127.5L624.5 121.5L624.5 106.5L625.5 131.5L625.5 109.5L625.5 115.5L625.5 112.5L625.5 115.5L626.5 112.5L626.5 118.5L626.5 109.5L626.5 109.5L627.5 124.5L627.5 109.5L627.5 121.5L627.5 115.5L627.5 124.5L627.5 106.5L628.5 118.5L628.5 109.5L628.5 115.5L628.5 106.5L628.5 106.5L629.5 112.5L629.5 112.5L629.5 124.5L629.5 112.5L630.5 115.5L630.5 121.5L630.5 118.5L631.5 109.5L631.5 121.5L631.5 127.5L631.5 118.5L631.5 115.5L632.5 127.5L632.5 106.5L632.5 109.5L632.5 109.5L632.5 112.5L633.5 118.5L633.5 109.5L633.5 112.5L633.5 130.5L634.5 121.5L634.5 127.5L634.5 118.5L635.5 124.5L635.5 121.5L635.5 121.5L636.5 115.5L636.5 118.5L636.5 115.5L636.5 115.5L636.5 130.5L637.5 121.5L637.5 121.5L637.5 121.5L637.5 133.5L638.5 121.5L638.5 121.5L638.5 118.5L638.5 130.5L639.5 115.5L639.5 127.5L639.5 118.5L639.5 139.5L640.5 121.5L640.5 130.5L640.5 124.5L640.5 115.5L641.5 115.5L641.5 127.5L641.5 130.5L641.5 115.5L642.5 115.5L642.5 133.5L642.5 136.5L642.5 115.5L643.5 127.5L643.5 133.5L643.5 127.5L643.5 115.5L644.5 112.5L644.5 118.5L644.5 124.5L645.5 118.5L645.5 121.5L645.5 121.5L645.5 118.5L646.5 124.5L646.5 130.5L646.5 136.5L646.5 112.5L647.5 112.5L647.5 121.5L647.5 133.5L647.5 118.5L647.5 130.5L648.5 107.5L648.5 112.5L648.5 121.5L648.5 133.5L649.5 112.5L649.5 124.5L649.5 127.5L649.5 115.5L650.5 130.5L650.5 112.5L650.5 124.5L650.5 139.5L651.5 306.5L651.5 133.5L651.5 124.5L651.5 133.5L651.5 124.5L652.5 118.5L652.5 121.5L652.5 127.5L652.5 139.5L653.5 136.5L653.5 118.5L653.5 124.5L653.5 124.5L654.5 133.5L654.5 130.5L654.5 118.5L654.5 133.5L655.5 118.5L655.5 127.5L655.5 127.5L656.5 130.5L656.5 124.5L656.5 136.5L656.5 121.5L656.5 121.5L657.5 130.5L657.5 124.5L657.5 80.5L657.5 91.5L658.5 80.5L658.5 82.5L658.5 85.5L658.5 80.5L658.5 91.5L659.5 91.5L659.5 85.5L659.5 85.5L659.5 91.5L660.5 97.5L660.5 88.5L660.5 94.5L660.5 85.5L660.5 94.5L661.5 97.5L661.5 94.5L661.5 91.5L662.5 94.5L662.5 80.5L662.5 88.5L662.5 97.5L662.5 91.5L663.5 94.5L663.5 82.5L663.5 85.5L663.5 80.5L664.5 88.5L664.5 82.5L664.5 133.5L664.5 130.5L665.5 127.5L665.5 133.5L665.5 118.5L665.5 118.5L666.5 109.5L666.5 127.5L666.5 130.5L666.5 109.5L667.5 127.5L667.5 115.5L667.5 112.5L667.5 121.5L667.5 112.5L668.5 118.5L668.5 112.5L668.5 112.5L669.5 115.5L669.5 106.5L669.5 130.5L669.5 109.5L670.5 109.5L670.5 106.5L670.5 115.5L670.5 112.5L671.5 112.5L671.5 109.5L671.5 118.5L671.5 118.5L672.5 127.5L672.5 127.5L672.5 118.5L672.5 118.5L673.5 109.5L673.5 115.5L673.5 112.5L673.5 103.5L673.5 109.5L674.5 109.5L674.5 112.5L674.5 106.5L675.5 115.5L675.5 103.5L675.5 118.5L675.5 112.5L676.5 106.5L676.5 106.5L676.5 109.5L676.5 115.5L677.5 103.5L677.5 118.5L677.5 115.5L677.5 106.5L678.5 112.5L678.5 106.5L678.5 112.5L678.5 112.5L678.5 109.5L679.5 115.5L679.5 97.5L679.5 112.5L680.5 97.5L680.5 112.5L680.5 106.5L680.5 106.5L681.5 112.5L681.5 100.5L681.5 100.5L681.5 106.5L682.5 100.5L682.5 97.5L682.5 100.5L682.5 106.5L682.5 100.5L683.5 103.5L683.5 106.5L683.5 97.5L683.5 106.5L684.5 100.5L684.5 97.5L684.5 106.5L684.5 103.5L685.5 97.5L685.5 103.5L685.5 94.5L685.5 100.5L686.5 106.5L686.5 103.5L686.5 97.5L687.5 100.5L687.5 91.5L687.5 100.5L687.5 97.5L688.5 103.5L688.5 100.5L688.5 91.5L688.5 100.5L689.5 100.5L689.5 94.5L695.5 88.5L695.5 100.5L695.5 97.5L695.5 97.5L696.5 88.5L696.5 94.5L696.5 82.5L696.5 80.5L696.5 82.5L697.5 104.5L697.5 82.5L697.5 94.5L697.5 97.5L697.5 88.5L698.5 100.5L698.5 82.5L698.5 100.5L698.5 91.5L699.5 82.5L699.5 97.5L699.5 100.5L700.5 85.5L700.5 85.5L700.5 94.5L700.5 94.5L700.5 80.5L701.5 91.5L701.5 85.5L701.5 85.5L702.5 91.5L702.5 91.5L702.5 80.5L702.5 94.5L703.5 85.5L703.5 97.5L703.5 91.5L703.5 94.5L703.5 80.5L704.5 88.5L704.5 88.5L704.5 80.5L705.5 85.5L705.5 85.5L705.5 94.5L705.5 82.5L706.5 77.5L706.5 97.5L706.5 91.5L706.5 94.5L707.5 91.5L707.5 91.5L707.5 82.5L707.5 88.5L708.5 85.5L708.5 82.5L708.5 82.5L708.5 100.5L709.5 97.5L709.5 88.5L709.5 100.5L709.5 91.5L709.5 88.5L710.5 97.5L710.5 80.5L710.5 88.5L711.5 94.5L711.5 82.5L711.5 85.5L711.5 100.5L711.5 94.5L712.5 85.5L712.5 97.5L712.5 80.5L712.5 88.5L713.5 91.5L713.5 88.5L713.5 88.5L713.5 85.5L714.5 97.5L714.5 94.5L714.5 88.5L714.5 97.5L715.5 97.5L715.5 94.5L715.5 82.5L716.5 94.5L716.5 94.5L716.5 82.5L716.5 80.5L717.5 82.5L717.5 94.5L717.5 91.5L717.5 82.5L718.5 80.5L718.5 82.5L718.5 91.5L718.5 88.5L719.5 80.5L719.5 97.5L719.5 82.5L719.5 77.5L720.5 91.5L720.5 94.5L720.5 88.5L720.5 77.5L720.5 82.5L721.5 88.5L721.5 85.5L721.5 97.5" stroke="#ff0000" stroke-linejoin="bevel"/>
<path d="M85 290.5h7M88.5 287v7M86 281.5h7M89.5 278v7M86 287.5h7M89.5 284v7M87 424.5h7M90.5 421v7M87 290.5h7M90.5 287v7M87 284.5h7M90.5 281v7M87 296.5h7M90.5 293v7M88 293.5h7M91.5 290v7M88 290.5h7M91.5 287v7M88 284.5h7M91.5 281v7M89 296.5h7M92.5 293v7M89 281.5h7M92.5 278v7M89 284.5h7M92.5 281v7M90 287.5h7M93.5 284v7M90 290.5h7M93.5 287v7M90 293.5h7M93.5 290v7M90 284.5h7M93.5 281v7M91 281.5h7M94.5 278v7M91 287.5h7M94.5 284v7M91 290.5h7M94.5 287v7M92 287.5h7M95.5 284v7M92 296.5h7M95.5 293v7M92 281.5h7M95.5 278v7M92 284.5h7M95.5 281v7M93 287.5h7M96.5 284v7M93 281.5h7M96.5 278v7M93 284.5h7M96.5 281v7M94 272.5h7M97.5 269v7M94 257.5h7M97.5 254v7M94 269.5h7M97.5 266v7M95 272.5h7M98.5 269v7M95 275.5h7M98.5 272v7M96 269.5h7M99.5 266v7M96 275.5h7M99.5 272v7M96 266.5h7M99.5 263v7M96 272.5h7M99.5 269v7M97 257.5h7M100.5 254v7M97 278.5h7M100.5 275v7M97 272.5h7M100.5 269v7M98 260.5h7M101.5 257v7M98 275.5h7M101.5 272v7M98 263.5h7M101.5 260v7M99 257.5h7M102.5 254v7M99 266.5h7M102.5 263v7M100 269.5h7M103.5 266v7M100 263.5h7M103.5 260v7M101 275.5h7M104.5 272v7M101 269.5h7M104.5 266v7M101 272.5h7M104.5 269v7M102 272.5h7M105.5 269v7M102 278.5h7M105.5 275v7M102 275.5h7M105.5 272v7M103 260.5h7M106.5 257v7M103 257.5h7M106.5 254v7M103 263.5h7M106.5 260v7M104 275.5h7M107.5 272v7M104 269.5h7M107.5 266v7M104 272.5h7M107.5 269v7M105 275.5h7M108.5 272v7M105 269.5h7M108.5 266v7M105 266.5h7M108.5 263v7M105 263.5h7M108.5 260v7M106 269.5h7M109.5 266v7M106 266.5h7M109.5 263v7M106 272.5h7M109.5 269v7M107 263.5h7M110.5 260v7M107 260.5h7M110.5 257v7M107 269.5h7M110.5 266v7M107 266.5h7M110.5 263v7M108 272.5h7M111.5 269v7M108 269.5h7M111.5 266v7M109 263.5h7M112.5 260v7M109 260.5h7M112.5 257v7M109 272.5h7M112.5 269v7M109 266.5h7M112.5 263v7M110 210.5h7M113.5 207v7M110 216.5h7M113.5 213v7M110 219.5h7M113.5 216v7M110 225.5h7M113.5 222v7M110 228.5h7M113.5 225v7M111 266.5h7M114.5 263v7M111 269.5h7M114.5 266v7M111 278.5h7M114.5 275v7M111 281.5h7M114.5 278v7M112 272.5h7M115.5 269v7M112 269.5h7M115.5 266v7M113 278.5h7M116.5 275v7M113 272.5h7M116.5 269v7M114 278.5h7M117.5 275v7M114 272.5h7M117.5 269v7M114 275.5h7M117.5 272v7M115 272.5h7M118.5 269v7M115 278.5h7M118.5 275v7M115 269.5h7M118.5 266v7M116 278.5h7M119.5 275v7M116 281.5h7M119.5 278v7M116 275.5h7M119.5 272v7M117 269.5h7M120.5 266v7M117 263.5h7M120.5 260v7M117 266.5h7M120.5 263v7M117 278.5h7M120.5 275v7M118 269.5h7M121.5 266v7M118 266.5h7M121.5 263v7M118 272.5h7M121.5 269v7M118 263.5h7M121.5 260v7M119 269.5h7M122.5 266v7M119 272.5h7M122.5 269v7M119 275.5h7M122.5 272v7M119 266.5h7M122.5 263v7M120 263.5h7M123.5 260v7M120 269.5h7M123.5 266v7M120 266.5h7M123.5 263v7M121 260.5h7M124.5 257v7M121 266.5h7M124.5 263v7M122 272.5h7M125.5 269v7M122 266.5h7M125.5 263v7M122 257.5h7M125.5 254v7M123 266.5h7M126.5 263v7M123 263.5h7M126.5 260v7M123 260.5h7M126.5 257v7M124 275.5h7M127.5 272v7M124 263.5h7M127.5 260v7M124 266.5h7M127.5 263v7M125 269.5h7M128.5 266v7M125 254.5h7M128.5 251v7M125 266.5h7M128.5 263v7M126 263.5h7M129.5 260v7M126 257.5h7M129.5 254v7M126 269.5h7M129.5 266v7M127 272.5h7M130.5 269v7M127 263.5h7M130.5 260v7M127 266.5h7M130.5 263v7M128 269.5h7M131.5 266v7M128 254.5h7M131.5 251v7M129 257.5h7M132.5 254v7M129 254.5h7M132.5 251v7M130 257.5h7M133.5 254v7M130 263.5h7M133.5 260v7M130 266.5h7M133.5 263v7M131 269.5h7M134.5 266v7M131 272.5h7M134.5 269v7M131 263.5h7M134.5 260v7M132 272.5h7M135.5 269v7M132 275.5h7M135.5 272v7M132 266.5h7M135.5 263v7M133 269.5h7M136.5 266v7M133 263.5h7M136.5 260v7M133 266.5h7M136.5 263v7M134 266.5h7M137.5 263v7M134 260.5h7M137.5 257v7M134 269.5h7M137.5 266v7M135 266.5h7M138.5 263v7M135 275.5h7M138.5 272v7M135 260.5h7M138.5 257v7M136 278.5h7M139.5 275v7M136 263.5h7M139.5 260v7M136 269.5h7M139.5 266v7M136 266.5h7M139.5 263v7M137 263.5h7M140.5 260v7M137 275.5h7M140.5 272v7M137 266.5h7M140.5 263v7M137 269.5h7M140.5 266v7M138 269.5h7M141.5 266v7M138 278.5h7M141.5 275v7M138 272.5h7M141.5 269v7M139 272.5h7M142.5 269v7M139 269.5h7M142.5 266v7M139 278.5h7M142.5 275v7M140 278.5h7M143.5 275v7M140 272.5h7M143.5 269v7M140 260.5h7M143.5 257v7M140 281.5h7M143.5 278v7M141 272.5h7M144.5 269v7M141 263.5h7M144.5 260v7M141 269.5h7M144.5 266v7M142 269.5h7M145.5 266v7M142 281.5h7M145.5 278v7M142 272.5h7M145.5 269v7M143 278.5h7M146.5 275v7M143 269.5h7M146.5 266v7M143 272.5h7M146.5 269v7M143 266.5h7M146.5 263v7M144 269.5h7M147.5 266v7M144 260.5h7M147.5 257v7M144 278.5h7M147.5 275v7M144 272.5h7M147.5 269v7M145 269.5h7M148.5 266v7M145 266.5h7M148.5 263v7M145 263.5h7M148.5 260v7M146 266.5h7M149.5 263v7M146 272.5h7M149.5 269v7M147 278.5h7M150.5 275v7M147 269.5h7M150.5 266v7M148 266.5h7M151.5 263v7M148 275.5h7M151.5 272v7M148 272.5h7M151.5 269v7M149 281.5h7M152.5 278v7M149 272.5h7M152.5 269v7M149 266.5h7M152.5 263v7M150 245.5h7M153.5 242v7M150 269.5h7M153.5 266v7M150 263.5h7M153.5 260v7M150 272.5h7M153.5 269v7M151 275.5h7M154.5 272v7M151 263.5h7M154.5 260v7M152 266.5h7M155.5 263v7M152 263.5h7M155.5 260v7M152 269.5h7M155.5 266v7M153 266.5h7M156.5 263v7M153 269.5h7M156.5 266v7M153 263.5h7M156.5 260v7M154 275.5h7M157.5 272v7M154 266.5h7M157.5 263v7M154 269.5h7M157.5 266v7M154 281.5h7M157.5 278v7M155 272.5h7M158.5 269v7M155 266.5h7M158.5 263v7M156 278.5h7M159.5 275v7M156 263.5h7M159.5 260v7M156 269.5h7M159.5 266v7M156 275.5h7M159.5 272v7M157 275.5h7M160.5 272v7M157 266.5h7M160.5 263v7M157 272.5h7M160.5 269v7M158 269.5h7M161.5 266v7M158 272.5h7M161.5 269v7M158 260.5h7M161.5 257v7M158 275.5h7M161.5 272v7M159 275.5h7M162.5 272v7M159 266.5h7M162.5 263v7M159 272.5h7M162.5 269v7M160 269.5h7M163.5 266v7M160 272.5h7M163.5 269v7M161 263.5h7M164.5 260v7M161 266.5h7M164.5 263v7M161 269.5h7M164.5 266v7M162 260.5h7M165.5 257v7M162 275.5h7M165.5 272v7M162 272.5h7M165.5 269v7M163 266.5h7M166.5 263v7M163 272.5h7M166.5 269v7M163 275.5h7M166.5 272v7M164 266.5h7M167.5 263v7M164 272.5h7M167.5 269v7M165 272.5h7M168.5 269v7M165 275.5h7M168.5 272v7M165 263.5h7M168.5 260v7M166 263.5h7M169.5 260v7M166 266.5h7M169.5 263v7M166 272.5h7M169.5 269v7M166 269.5h7M169.5 266v7M167 272.5h7M170.5 269v7M167 269.5h7M170.5 266v7M168 272.5h7M171.5 269v7M168 260.5h7M171.5 257v7M169 266.5h7M172.5 263v7M169 272.5h7M172.5 269v7M169 275.5h7M172.5 272v7M170 263.5h7M173.5 260v7M170 266.5h7M173.5 263v7M171 260.5h7M174.5 257v7M171 278.5h7M174.5 275v7M171 281.5h7M174.5 278v7M172 275.5h7M175.5 272v7M172 263.5h7M175.5 260v7M172 272.5h7M175.5 269v7M172 278.5h7M175.5 275v7M173 281.5h7M176.5 278v7M173 269.5h7M176.5 266v7M173 272.5h7M176.5 269v7M174 263.5h7M177.5 260v7M174 269.5h7M177.5 266v7M175 269.5h7M178.5 266v7M175 272.5h7M178.5 269v7M175 275.5h7M178.5 272v7M175 266.5h7M178.5 263v7M176 272.5h7M179.5 269v7M176 275.5h7M179.5 272v7M176 278.5h7M179.5 275v7M177 269.5h7M180.5 266v7M177 272.5h7M180.5 269v7M177 281.5h7M180.5 278v7M178 269.5h7M181.5 266v7M178 272.5h7M181.5 269v7M178 278.5h7M181.5 275v7M179 269.5h7M182.5 266v7M179 272.5h7M182.5 269v7M179 266.5h7M182.5 263v7M180 278.5h7M183.5 275v7M180 263.5h7M183.5 260v7M180 272.5h7M183.5 269v7M180 266.5h7M183.5 263v7M181 269.5h7M184.5 266v7M181 275.5h7M184.5 272v7M181 266.5h7M184.5 263v7M181 240.5h7M184.5 237v7M181 234.5h7M184.5 231v7M182 231.5h7M185.5 228v7M182 234.5h7M185.5 231v7M182 237.5h7M185.5 234v7M182 240.5h7M185.5 237v7M183 240.5h7M186.5 237v7M183 243.5h7M186.5 240v7M183 246.5h7M186.5 243v7M184 237.5h7M187.5 234v7M184 243.5h7M187.5 240v7M184 248.5h7M187.5 245v7M185 248.5h7M188.5 245v7M185 237.5h7M188.5 234v7M185 243.5h7M188.5 240v7M185 240.5h7M188.5 237v7M186 243.5h7M189.5 240v7M186 246.5h7M189.5 243v7M186 240.5h7M189.5 237v7M187 246.5h7M190.5 243v7M187 237.5h7M190.5 234v7M187 240.5h7M190.5 237v7M187 248.5h7M190.5 245v7M188 240.5h7M191.5 237v7M188 231.5h7M191.5 228v7M188 248.5h7M191.5 245v7M189 240.5h7M192.5 237v7M189 248.5h7M192.5 245v7M190 240.5h7M193.5 237v7M190 234.5h7M193.5 231v7M190 231.5h7M193.5 228v7M190 248.5h7M193.5 245v7M191 246.5h7M194.5 243v7M191 237.5h7M194.5 234v7M191 234.5h7M194.5 231v7M192 251.5h7M195.5 248v7M192 243.5h7M195.5 240v7M192 231.5h7M195.5 228v7M192 222.5h7M195.5 219v7M193 222.5h7M196.5 219v7M193 219.5h7M196.5 216v7M193 210.5h7M196.5 207v7M193 216.5h7M196.5 213v7M194 210.5h7M197.5 207v7M194 216.5h7M197.5 213v7M195 207.5h7M198.5 204v7M195 201.5h7M198.5 198v7M195 216.5h7M198.5 213v7M196 207.5h7M199.5 204v7M196 213.5h7M199.5 210v7M196 201.5h7M199.5 198v7M196 210.5h7M199.5 207v7M197 219.5h7M200.5 216v7M197 213.5h7M200.5 210v7M197 201.5h7M200.5 198v7M197 210.5h7M200.5 207v7M198 207.5h7M201.5 204v7M198 216.5h7M201.5 213v7M198 210.5h7M201.5 207v7M199 201.5h7M202.5 198v7M199 207.5h7M202.5 204v7M199 216.5h7M202.5 213v7M200 210.5h7M203.5 207v7M200 207.5h7M203.5 204v7M200 204.5h7M203.5 201v7M201 210.5h7M204.5 207v7M201 198.5h7M204.5 195v7M201 207.5h7M204.5 204v7M202 216.5h7M205.5 213v7M202 204.5h7M205.5 201v7M202 207.5h7M205.5 204v7M203 204.5h7M206.5 201v7M203 216.5h7M206.5 213v7M203 210.5h7M206.5 207v7M204 204.5h7M207.5 201v7M204 219.5h7M207.5 216v7M204 207.5h7M207.5 204v7M205 210.5h7M208.5 207v7M205 204.5h7M208.5 201v7M205 207.5h7M208.5 204v7M206 210.5h7M209.5 207v7M206 207.5h7M209.5 204v7M206 198.5h7M209.5 195v7M207 179.5h7M210.5 176v7M207 182.5h7M210.5 179v7M207 185.5h7M210.5 182v7M207 216.5h7M210.5 213v7M207 213.5h7M210.5 210v7M207 207.5h7M210.5 204v7M207 204.5h7M210.5 201v7M207 210.5h7M210.5 207v7M208 201.5h7M211.5 198v7M208 216.5h7M211.5 213v7M209 201.5h7M212.5 198v7M209 210.5h7M212.5 207v7M209 216.5h7M212.5 213v7M209 207.5h7M212.5 204v7M210 201.5h7M213.5 198v7M210 204.5h7M213.5 201v7M211 198.5h7M214.5 195v7M211 207.5h7M214.5 204v7M211 213.5h7M214.5 210v7M212 207.5h7M215.5 204v7M212 210.5h7M215.5 207v7M212 201.5h7M215.5 198v7M213 201.5h7M216.5 198v7M213 210.5h7M216.5 207v7M213 204.5h7M216.5 201v7M213 207.5h7M216.5 204v7M214 216.5h7M217.5 213v7M214 210.5h7M217.5 207v7M214 207.5h7M217.5 204v7M215 213.5h7M218.5 210v7M215 204.5h7M218.5 201v7M215 216.5h7M218.5 213v7M216 219.5h7M219.5 216v7M216 222.5h7M219.5 219v7M216 216.5h7M219.5 213v7M216 213.5h7M219.5 210v7M217 219.5h7M220.5 216v7M217 222.5h7M220.5 219v7M218 222.5h7M221.5 219v7M218 213.5h7M221.5 210v7M218 219.5h7M221.5 216v7M218 210.5h7M221.5 207v7M218 207.5h7M221.5 204v7M219 213.5h7M222.5 210v7M219 201.5h7M222.5 198v7M220 204.5h7M223.5 201v7M220 201.5h7M223.5 198v7M220 213.5h7M223.5 210v7M221 207.5h7M224.5 204v7M221 204.5h7M224.5 201v7M222 204.5h7M225.5 201v7M222 210.5h7M225.5 207v7M223 207.5h7M226.5 204v7M223 204.5h7M226.5 201v7M223 210.5h7M226.5 207v7M224 207.5h7M227.5 204v7M224 201.5h7M227.5 198v7M225 207.5h7M228.5 204v7M225 198.5h7M228.5 195v7M226 201.5h7M229.5 198v7M226 213.5h7M229.5 210v7M226 204.5h7M229.5 201v7M227 207.5h7M230.5 204v7M227 204.5h7M230.5 201v7M228 207.5h7M231.5 204v7M228 210.5h7M231.5 207v7M228 213.5h7M231.5 210v7M229 219.5h7M232.5 216v7M229 210.5h7M232.5 207v7M229 213.5h7M232.5 210v7M229 216.5h7M232.5 213v7M230 216.5h7M233.5 213v7M230 219.5h7M233.5 216v7M230 213.5h7M233.5 210v7M231 207.5h7M234.5 204v7M231 216.5h7M234.5 213v7M231 219.5h7M234.5 216v7M232 219.5h7M235.5 216v7M232 213.5h7M235.5 210v7M232 210.5h7M235.5 207v7M233 219.5h7M236.5 216v7M233 228.5h7M236.5 225v7M233 225.5h7M236.5 222v7M233 216.5h7M236.5 213v7M234 219.5h7M237.5 216v7M234 228.5h7M237.5 225v7M234 225.5h7M237.5 222v7M235 219.5h7M238.5 216v7M235 216.5h7M238.5 213v7M235 228.5h7M238.5 225v7M236 225.5h7M239.5 222v7M236 219.5h7M239.5 216v7M236 216.5h7M239.5 213v7M236 234.5h7M239.5 231v7M237 228.5h7M240.5 225v7M237 225.5h7M240.5 222v7M237 219.5h7M240.5 216v7M238 237.5h7M241.5 234v7M238 234.5h7M241.5 231v7M238 228.5h7M241.5 225v7M239 225.5h7M242.5 222v7M239 237.5h7M242.5 234v7M239 231.5h7M242.5 228v7M240 237.5h7M243.5 234v7M240 240.5h7M243.5 237v7M240 228.5h7M243.5 225v7M240 225.5h7M243.5 222v7M241 225.5h7M244.5 222v7M241 234.5h7M244.5 231v7M241 237.5h7M244.5 234v7M241 228.5h7M244.5 225v7M242 234.5h7M245.5 231v7M242 231.5h7M245.5 228v7M242 228.5h7M245.5 225v7M243 225.5h7M246.5 222v7M243 237.5h7M246.5 234v7M243 231.5h7M246.5 228v7M243 228.5h7M246.5 225v7M244 231.5h7M247.5 228v7M244 225.5h7M247.5 222v7M244 237.5h7M247.5 234v7M245 231.5h7M248.5 228v7M245 240.5h7M248.5 237v7M245 222.5h7M248.5 219v7M245 228.5h7M248.5 225v7M246 225.5h7M249.5 222v7M246 222.5h7M249.5 219v7M246 240.5h7M249.5 237v7M247 231.5h7M250.5 228v7M247 237.5h7M250.5 234v7M247 228.5h7M250.5 225v7M248 228.5h7M251.5 225v7M248 231.5h7M251.5 228v7M248 234.5h7M251.5 231v7M249 234.5h7M252.5 231v7M249 231.5h7M252.5 228v7M250 216.5h7M253.5 213v7M250 222.5h7M253.5 219v7M250 225.5h7M253.5 222v7M250 219.5h7M253.5 216v7M251 228.5h7M254.5 225v7M251 225.5h7M254.5 222v7M251 213.5h7M254.5 210v7M252 225.5h7M255.5 222v7M252 210.5h7M255.5 207v7M252 216.5h7M255.5 213v7M253 219.5h7M256.5 216v7M253 222.5h7M256.5 219v7M253 213.5h7M256.5 210v7M253 210.5h7M256.5 207v7M254 225.5h7M257.5 222v7M254 216.5h7M257.5 213v7M254 210.5h7M257.5 207v7M255 219.5h7M258.5 216v7M255 225.5h7M258.5 222v7M255 210.5h7M258.5 207v7M256 225.5h7M259.5 222v7M256 207.5h7M259.5 204v7M256 219.5h7M259.5 216v7M256 213.5h7M259.5 210v7M257 225.5h7M260.5 222v7M257 216.5h7M260.5 213v7M257 213.5h7M260.5 210v7M257 222.5h7M260.5 219v7M258 222.5h7M261.5 219v7M258 213.5h7M261.5 210v7M258 210.5h7M261.5 207v7M259 306.5h7M262.5 303v7M259 219.5h7M262.5 216v7M259 222.5h7M262.5 219v7M260 216.5h7M263.5 213v7M260 219.5h7M263.5 216v7M260 222.5h7M263.5 219v7M260 213.5h7M263.5 210v7M261 213.5h7M264.5 210v7M261 225.5h7M264.5 222v7M261 216.5h7M264.5 213v7M261 219.5h7M264.5 216v7M262 222.5h7M265.5 219v7M262 213.5h7M265.5 210v7M262 231.5h7M265.5 228v7M263 231.5h7M266.5 228v7M263 228.5h7M266.5 225v7M264 231.5h7M267.5 228v7M264 222.5h7M267.5 219v7M265 237.5h7M268.5 234v7M265 231.5h7M268.5 228v7M265 225.5h7M268.5 222v7M266 228.5h7M269.5 225v7M266 225.5h7M269.5 222v7M266 231.5h7M269.5 228v7M267 225.5h7M270.5 222v7M267 228.5h7M270.5 225v7M267 234.5h7M270.5 231v7M267 231.5h7M270.5 228v7M268 306.5h7M271.5 303v7M268 231.5h7M271.5 228v7M268 222.5h7M271.5 219v7M268 237.5h7M271.5 234v7M268 225.5h7M271.5 222v7M269 231.5h7M272.5 228v7M269 237.5h7M272.5 234v7M270 234.5h7M273.5 231v7M270 243.5h7M273.5 240v7M270 231.5h7M273.5 228v7M271 228.5h7M274.5 225v7M271 237.5h7M274.5 234v7M271 142.5h7M274.5 139v7M271 151.5h7M274.5 148v7M272 139.5h7M275.5 136v7M272 148.5h7M275.5 145v7M272 145.5h7M275.5 142v7M273 154.5h7M276.5 151v7M273 148.5h7M276.5 145v7M274 302.5h7M277.5 299v7M274 312.5h7M277.5 309v7M274 151.5h7M277.5 148v7M274 154.5h7M277.5 151v7M274 157.5h7M277.5 154v7M275 154.5h7M278.5 151v7M275 162.5h7M278.5 159v7M275 160.5h7M278.5 157v7M275 157.5h7M278.5 154v7M276 168.5h7M279.5 165v7M276 165.5h7M279.5 162v7M276 157.5h7M279.5 154v7M277 165.5h7M280.5 162v7M277 168.5h7M280.5 165v7M277 180.5h7M280.5 177v7M278 177.5h7M281.5 174v7M278 189.5h7M281.5 186v7M278 183.5h7M281.5 180v7M279 180.5h7M282.5 177v7M279 174.5h7M282.5 171v7M279 186.5h7M282.5 183v7M279 183.5h7M282.5 180v7M280 189.5h7M283.5 186v7M280 180.5h7M283.5 177v7M280 177.5h7M283.5 174v7M281 180.5h7M284.5 177v7M281 186.5h7M284.5 183v7M282 174.5h7M285.5 171v7M282 189.5h7M285.5 186v7M282 180.5h7M285.5 177v7M283 189.5h7M286.5 186v7M283 174.5h7M286.5 171v7M283 177.5h7M286.5 174v7M284 192.5h7M287.5 189v7M284 180.5h7M287.5 177v7M285 189.5h7M288.5 186v7M285 186.5h7M288.5 183v7M286 180.5h7M289.5 177v7M286 174.5h7M289.5 171v7M286 186.5h7M289.5 183v7M286 189.5h7M289.5 186v7M287 189.5h7M290.5 186v7M287 201.5h7M290.5 198v7M287 198.5h7M290.5 195v7M287 192.5h7M290.5 189v7M287 195.5h7M290.5 192v7M288 198.5h7M291.5 195v7M288 204.5h7M291.5 201v7M288 216.5h7M291.5 213v7M289 195.5h7M292.5 192v7M289 219.5h7M292.5 216v7M289 204.5h7M292.5 201v7M289 207.5h7M292.5 204v7M289 213.5h7M292.5 210v7M290 222.5h7M293.5 219v7M290 219.5h7M293.5 216v7M290 237.5h7M293.5 234v7M291 228.5h7M294.5 225v7M291 240.5h7M294.5 237v7M291 234.5h7M294.5 231v7M292 234.5h7M295.5 231v7M292 243.5h7M295.5 240v7M292 240.5h7M295.5 237v7M292 246.5h7M295.5 243v7M293 237.5h7M296.5 234v7M293 251.5h7M296.5 248v7M293 246.5h7M296.5 243v7M294 258.5h7M297.5 255v7M294 240.5h7M297.5 237v7M294 251.5h7M297.5 248v7M294 254.5h7M297.5 251v7M295 243.5h7M298.5 240v7M295 248.5h7M298.5 245v7M295 251.5h7M298.5 248v7M296 240.5h7M299.5 237v7M296 251.5h7M299.5 248v7M296 243.5h7M299.5 240v7M297 251.5h7M300.5 248v7M297 243.5h7M300.5 240v7M297 248.5h7M300.5 245v7M298 246.5h7M301.5 243v7M298 237.5h7M301.5 234v7M299 248.5h7M302.5 245v7M299 251.5h7M302.5 248v7M299 240.5h7M302.5 237v7M300 248.5h7M303.5 245v7M300 251.5h7M303.5 248v7M300 246.5h7M303.5 243v7M301 251.5h7M304.5 248v7M301 246.5h7M304.5 243v7M301 240.5h7M304.5 237v7M302 243.5h7M305.5 240v7M302 240.5h7M305.5 237v7M302 246.5h7M305.5 243v7M302 248.5h7M305.5 245v7M303 251.5h7M306.5 248v7M303 248.5h7M306.5 245v7M303 246.5h7M306.5 243v7M304 309.5h7M307.5 306v7M304 240.5h7M307.5 237v7M304 248.5h7M307.5 245v7M304 246.5h7M307.5 243v7M304 254.5h7M307.5 251v7M305 240.5h7M308.5 237v7M305 246.5h7M308.5 243v7M305 254.5h7M308.5 251v7M306 240.5h7M309.5 237v7M306 246.5h7M309.5 243v7M306 248.5h7M309.5 245v7M307 243.5h7M310.5 240v7M307 246.5h7M310.5 243v7M308 248.5h7M311.5 245v7M308 246.5h7M311.5 243v7M309 251.5h7M312.5 248v7M309 243.5h7M312.5 240v7M310 240.5h7M313.5 237v7M310 246.5h7M313.5 243v7M311 248.5h7M314.5 245v7M311 237.5h7M314.5 234v7M311 240.5h7M314.5 237v7M312 246.5h7M315.5 243v7M312 248.5h7M315.5 245v7M313 243.5h7M316.5 240v7M313 248.5h7M316.5 245v7M314 246.5h7M317.5 243v7M314 243.5h7M317.5 240v7M314 251.5h7M317.5 248v7M315 240.5h7M318.5 237v7M315 246.5h7M318.5 243v7M316 237.5h7M319.5 234v7M316 246.5h7M319.5 243v7M316 251.5h7M319.5 248v7M317 237.5h7M320.5 234v7M317 243.5h7M320.5 240v7M317 248.5h7M320.5 245v7M318 248.5h7M321.5 245v7M318 246.5h7M321.5 243v7M318 243.5h7M321.5 240v7M319 246.5h7M322.5 243v7M319 240.5h7M322.5 237v7M320 246.5h7M323.5 243v7M320 243.5h7M323.5 240v7M320 237.5h7M323.5 234v7M320 251.5h7M323.5 248v7M321 240.5h7M324.5 237v7M321 248.5h7M324.5 245v7M321 243.5h7M324.5 240v7M322 240.5h7M325.5 237v7M322 248.5h7M325.5 245v7M322 246.5h7M325.5 243v7M322 243.5h7M325.5 240v7M323 240.5h7M326.5 237v7M323 246.5h7M326.5 243v7M323 248.5h7M326.5 245v7M324 243.5h7M327.5 240v7M324 240.5h7M327.5 237v7M324 246.5h7M327.5 243v7M325 240.5h7M328.5 237v7M325 248.5h7M328.5 245v7M325 237.5h7M328.5 234v7M326 237.5h7M329.5 234v7M326 240.5h7M329.5 237v7M327 243.5h7M330.5 240v7M327 237.5h7M330.5 234v7M327 248.5h7M330.5 245v7M327 240.5h7M330.5 237v7M328 237.5h7M331.5 234v7M328 243.5h7M331.5 240v7M328 251.5h7M331.5 248v7M329 243.5h7M332.5 240v7M329 246.5h7M332.5 243v7M330 246.5h7M333.5 243v7M330 243.5h7M333.5 240v7M330 240.5h7M333.5 237v7M331 248.5h7M334.5 245v7M331 237.5h7M334.5 234v7M331 240.5h7M334.5 237v7M332 243.5h7M335.5 240v7M332 240.5h7M335.5 237v7M332 237.5h7M335.5 234v7M333 243.5h7M336.5 240v7M333 237.5h7M336.5 234v7M333 240.5h7M336.5 237v7M333 246.5h7M336.5 243v7M333 234.5h7M336.5 231v7M334 234.5h7M337.5 231v7M334 248.5h7M337.5 245v7M334 237.5h7M337.5 234v7M334 243.5h7M337.5 240v7M335 243.5h7M338.5 240v7M335 240.5h7M338.5 237v7M335 248.5h7M338.5 245v7M336 248.5h7M339.5 245v7M336 237.5h7M339.5 234v7M336 246.5h7M339.5 243v7M337 237.5h7M340.5 234v7M337 243.5h7M340.5 240v7M337 240.5h7M340.5 237v7M338 240.5h7M341.5 237v7M339 243.5h7M342.5 240v7M339 246.5h7M342.5 243v7M340 234.5h7M343.5 231v7M340 248.5h7M343.5 245v7M340 246.5h7M343.5 243v7M340 243.5h7M343.5 240v7M341 243.5h7M344.5 240v7M341 234.5h7M344.5 231v7M341 246.5h7M344.5 243v7M342 300.5h7M345.5 297v7M342 306.5h7M345.5 303v7M342 237.5h7M345.5 234v7M342 234.5h7M345.5 231v7M342 240.5h7M345.5 237v7M343 240.5h7M346.5 237v7M343 246.5h7M346.5 243v7M343 237.5h7M346.5 234v7M344 240.5h7M347.5 237v7M344 234.5h7M347.5 231v7M344 243.5h7M347.5 240v7M344 237.5h7M347.5 234v7M345 243.5h7M348.5 240v7M345 237.5h7M348.5 234v7M345 248.5h7M348.5 245v7M346 234.5h7M349.5 231v7M346 237.5h7M349.5 234v7M346 243.5h7M349.5 240v7M346 246.5h7M349.5 243v7M347 243.5h7M350.5 240v7M347 246.5h7M350.5 243v7M348 234.5h7M351.5 231v7M348 240.5h7M351.5 237v7M348 243.5h7M351.5 240v7M348 237.5h7M351.5 234v7M349 246.5h7M352.5 243v7M349 243.5h7M352.5 240v7M350 237.5h7M353.5 234v7M350 243.5h7M353.5 240v7M351 240.5h7M354.5 237v7M351 231.5h7M354.5 228v7M351 234.5h7M354.5 231v7M352 237.5h7M355.5 234v7M352 243.5h7M355.5 240v7M352 231.5h7M355.5 228v7M353 231.5h7M356.5 228v7M353 234.5h7M356.5 231v7M353 237.5h7M356.5 234v7M354 237.5h7M357.5 234v7M354 225.5h7M357.5 222v7M355 228.5h7M358.5 225v7M355 234.5h7M358.5 231v7M355 231.5h7M358.5 228v7M355 225.5h7M358.5 222v7M356 234.5h7M359.5 231v7M356 228.5h7M359.5 225v7M356 237.5h7M359.5 234v7M357 228.5h7M360.5 225v7M357 222.5h7M360.5 219v7M357 225.5h7M360.5 222v7M357 237.5h7M360.5 234v7M358 240.5h7M361.5 237v7M358 231.5h7M361.5 228v7M359 237.5h7M362.5 234v7M359 225.5h7M362.5 222v7M359 234.5h7M362.5 231v7M360 231.5h7M363.5 228v7M360 228.5h7M363.5 225v7M360 237.5h7M363.5 234v7M360 234.5h7M363.5 231v7M361 300.5h7M364.5 297v7M361 225.5h7M364.5 222v7M361 231.5h7M364.5 228v7M361 234.5h7M364.5 231v7M362 234.5h7M365.5 231v7M362 231.5h7M365.5 228v7M362 210.5h7M365.5 207v7M362 213.5h7M365.5 210v7M363 210.5h7M366.5 207v7M363 222.5h7M366.5 219v7M363 207.5h7M366.5 204v7M363 219.5h7M366.5 216v7M364 219.5h7M367.5 216v7M364 204.5h7M367.5 201v7M365 210.5h7M368.5 207v7M365 216.5h7M368.5 213v7M365 213.5h7M368.5 210v7M366 207.5h7M369.5 204v7M366 204.5h7M369.5 201v7M366 216.5h7M369.5 213v7M367 207.5h7M370.5 204v7M367 204.5h7M370.5 201v7M367 210.5h7M370.5 207v7M368 204.5h7M371.5 201v7M368 216.5h7M371.5 213v7M368 222.5h7M371.5 219v7M369 213.5h7M372.5 210v7M369 207.5h7M372.5 204v7M369 204.5h7M372.5 201v7M369 219.5h7M372.5 216v7M370 210.5h7M373.5 207v7M370 204.5h7M373.5 201v7M370 219.5h7M373.5 216v7M371 213.5h7M374.5 210v7M371 219.5h7M374.5 216v7M372 219.5h7M375.5 216v7M372 216.5h7M375.5 213v7M372 207.5h7M375.5 204v7M373 216.5h7M376.5 213v7M373 219.5h7M376.5 216v7M374 216.5h7M377.5 213v7M374 210.5h7M377.5 207v7M375 213.5h7M378.5 210v7M375 210.5h7M378.5 207v7M375 219.5h7M378.5 216v7M376 213.5h7M379.5 210v7M376 216.5h7M379.5 213v7M376 204.5h7M379.5 201v7M376 219.5h7M379.5 216v7M377 210.5h7M380.5 207v7M377 213.5h7M380.5 210v7M377 207.5h7M380.5 204v7M378 213.5h7M381.5 210v7M379 216.5h7M382.5 213v7M379 219.5h7M382.5 216v7M379 204.5h7M382.5 201v7M380 210.5h7M383.5 207v7M380 204.5h7M383.5 201v7M380 216.5h7M383.5 213v7M380 213.5h7M383.5 210v7M381 219.5h7M384.5 216v7M381 207.5h7M384.5 204v7M382 213.5h7M385.5 210v7M382 219.5h7M385.5 216v7M383 219.5h7M386.5 216v7M383 213.5h7M386.5 210v7M383 216.5h7M386.5 213v7M384 213.5h7M387.5 210v7M384 216.5h7M387.5 213v7M385 213.5h7M388.5 210v7M385 216.5h7M388.5 213v7M385 210.5h7M388.5 207v7M386 204.5h7M389.5 201v7M386 213.5h7M389.5 210v7M386 216.5h7M389.5 213v7M387 210.5h7M390.5 207v7M387 207.5h7M390.5 204v7M387 216.5h7M390.5 213v7M387 213.5h7M390.5 210v7M388 210.5h7M391.5 207v7M388 222.5h7M391.5 219v7M388 213.5h7M391.5 210v7M388 204.5h7M391.5 201v7M389 213.5h7M392.5 210v7M389 207.5h7M392.5 204v7M389 210.5h7M392.5 207v7M390 207.5h7M393.5 204v7M390 216.5h7M393.5 213v7M390 213.5h7M393.5 210v7M391 210.5h7M394.5 207v7M391 204.5h7M394.5 201v7M392 210.5h7M395.5 207v7M392 207.5h7M395.5 204v7M392 201.5h7M395.5 198v7M393 213.5h7M396.5 210v7M394 207.5h7M397.5 204v7M394 210.5h7M397.5 207v7M394 201.5h7M397.5 198v7M395 213.5h7M398.5 210v7M395 216.5h7M398.5 213v7M395 207.5h7M398.5 204v7M396 210.5h7M399.5 207v7M396 207.5h7M399.5 204v7M396 195.5h7M399.5 192v7M397 201.5h7M400.5 198v7M397 198.5h7M400.5 195v7M397 195.5h7M400.5 192v7M398 192.5h7M401.5 189v7M398 189.5h7M401.5 186v7M398 183.5h7M401.5 180v7M399 192.5h7M402.5 189v7M399 177.5h7M402.5 174v7M399 180.5h7M402.5 177v7M400 180.5h7M403.5 177v7M400 192.5h7M403.5 189v7M400 186.5h7M403.5 183v7M400 174.5h7M403.5 171v7M401 302.5h7M404.5 299v7M401 309.5h7M404.5 306v7M401 189.5h7M404.5 186v7M401 174.5h7M404.5 171v7M402 177.5h7M405.5 174v7M402 186.5h7M405.5 183v7M402 180.5h7M405.5 177v7M403 174.5h7M406.5 171v7M403 177.5h7M406.5 174v7M403 180.5h7M406.5 177v7M403 171.5h7M406.5 168v7M403 183.5h7M406.5 180v7M404 180.5h7M407.5 177v7M404 177.5h7M407.5 174v7M404 183.5h7M407.5 180v7M404 189.5h7M407.5 186v7M404 186.5h7M407.5 183v7M405 177.5h7M408.5 174v7M405 180.5h7M408.5 177v7M406 177.5h7M409.5 174v7M406 183.5h7M409.5 180v7M406 189.5h7M409.5 186v7M407 171.5h7M410.5 168v7M407 180.5h7M410.5 177v7M407 186.5h7M410.5 183v7M408 174.5h7M411.5 171v7M408 186.5h7M411.5 183v7M408 189.5h7M411.5 186v7M408 180.5h7M411.5 177v7M409 189.5h7M412.5 186v7M409 174.5h7M412.5 171v7M409 186.5h7M412.5 183v7M409 177.5h7M412.5 174v7M410 183.5h7M413.5 180v7M410 186.5h7M413.5 183v7M411 183.5h7M414.5 180v7M411 171.5h7M414.5 168v7M412 186.5h7M415.5 183v7M412 177.5h7M415.5 174v7M412 189.5h7M415.5 186v7M412 180.5h7M415.5 177v7M413 155.5h7M416.5 152v7M413 160.5h7M416.5 157v7M413 164.5h7M416.5 161v7M413 186.5h7M416.5 183v7M413 183.5h7M416.5 180v7M413 180.5h7M416.5 177v7M414 174.5h7M417.5 171v7M414 171.5h7M417.5 168v7M414 177.5h7M417.5 174v7M415 189.5h7M418.5 186v7M415 180.5h7M418.5 177v7M415 183.5h7M418.5 180v7M415 186.5h7M418.5 183v7M416 174.5h7M419.5 171v7M416 186.5h7M419.5 183v7M417 183.5h7M420.5 180v7M417 186.5h7M420.5 183v7M417 174.5h7M420.5 171v7M417 180.5h7M420.5 177v7M417 171.5h7M420.5 168v7M418 180.5h7M421.5 177v7M418 171.5h7M421.5 168v7M418 168.5h7M421.5 165v7M419 180.5h7M422.5 177v7M419 177.5h7M422.5 174v7M419 174.5h7M422.5 171v7M420 183.5h7M423.5 180v7M420 180.5h7M423.5 177v7M420 171.5h7M423.5 168v7M420 177.5h7M423.5 174v7M421 177.5h7M424.5 174v7M421 174.5h7M424.5 171v7M421 180.5h7M424.5 177v7M421 186.5h7M424.5 183v7M422 180.5h7M425.5 177v7M422 174.5h7M425.5 171v7M422 168.5h7M425.5 165v7M423 171.5h7M426.5 168v7M423 177.5h7M426.5 174v7M424 168.5h7M427.5 165v7M424 171.5h7M427.5 168v7M424 174.5h7M427.5 171v7M424 165.5h7M427.5 162v7M425 171.5h7M428.5 168v7M426 168.5h7M429.5 165v7M426 180.5h7M429.5 177v7M426 171.5h7M429.5 168v7M427 168.5h7M430.5 165v7M427 165.5h7M430.5 162v7M427 177.5h7M430.5 174v7M427 171.5h7M430.5 168v7M428 177.5h7M431.5 174v7M428 180.5h7M431.5 177v7M428 183.5h7M431.5 180v7M428 165.5h7M431.5 162v7M429 165.5h7M432.5 162v7M429 183.5h7M432.5 180v7M429 177.5h7M432.5 174v7M429 180.5h7M432.5 177v7M430 180.5h7M433.5 177v7M430 174.5h7M433.5 171v7M430 177.5h7M433.5 174v7M430 168.5h7M433.5 165v7M431 174.5h7M434.5 171v7M431 177.5h7M434.5 174v7M431 183.5h7M434.5 180v7M431 180.5h7M434.5 177v7M432 171.5h7M435.5 168v7M432 177.5h7M435.5 174v7M433 165.5h7M436.5 162v7M433 177.5h7M436.5 174v7M433 174.5h7M436.5 171v7M433 168.5h7M436.5 165v7M434 165.5h7M437.5 162v7M434 171.5h7M437.5 168v7M434 174.5h7M437.5 171v7M435 174.5h7M438.5 171v7M435 165.5h7M438.5 162v7M435 177.5h7M438.5 174v7M435 171.5h7M438.5 168v7M436 177.5h7M439.5 174v7M436 171.5h7M439.5 168v7M436 165.5h7M439.5 162v7M437 171.5h7M440.5 168v7M437 168.5h7M440.5 165v7M437 174.5h7M440.5 171v7M438 174.5h7M441.5 171v7M438 171.5h7M441.5 168v7M438 177.5h7M441.5 174v7M439 174.5h7M442.5 171v7M439 165.5h7M442.5 162v7M439 180.5h7M442.5 177v7M440 162.5h7M443.5 159v7M440 160.5h7M443.5 157v7M440 171.5h7M443.5 168v7M440 174.5h7M443.5 171v7M441 162.5h7M444.5 159v7M441 160.5h7M444.5 157v7M441 165.5h7M444.5 162v7M441 157.5h7M444.5 154v7M442 160.5h7M445.5 157v7M442 165.5h7M445.5 162v7M442 162.5h7M445.5 159v7M442 154.5h7M445.5 151v7M443 165.5h7M446.5 162v7M443 160.5h7M446.5 157v7M443 157.5h7M446.5 154v7M444 157.5h7M447.5 154v7M444 151.5h7M447.5 148v7M444 154.5h7M447.5 151v7M445 162.5h7M448.5 159v7M445 148.5h7M448.5 145v7M445 151.5h7M448.5 148v7M445 157.5h7M448.5 154v7M446 157.5h7M449.5 154v7M446 142.5h7M449.5 139v7M446 151.5h7M449.5 148v7M446 145.5h7M449.5 142v7M447 142.5h7M450.5 139v7M447 151.5h7M450.5 148v7M447 145.5h7M450.5 142v7M448 148.5h7M451.5 145v7M448 139.5h7M451.5 136v7M448 151.5h7M451.5 148v7M448 142.5h7M451.5 139v7M449 142.5h7M452.5 139v7M449 157.5h7M452.5 154v7M449 154.5h7M452.5 151v7M450 151.5h7M453.5 148v7M450 139.5h7M453.5 136v7M451 142.5h7M454.5 139v7M451 154.5h7M454.5 151v7M452 139.5h7M455.5 136v7M452 145.5h7M455.5 142v7M452 136.5h7M455.5 133v7M452 148.5h7M455.5 145v7M452 154.5h7M455.5 151v7M453 139.5h7M456.5 136v7M453 145.5h7M456.5 142v7M453 148.5h7M456.5 145v7M453 154.5h7M456.5 151v7M454 142.5h7M457.5 139v7M454 145.5h7M457.5 142v7M455 151.5h7M458.5 148v7M455 148.5h7M458.5 145v7M455 157.5h7M458.5 154v7M455 139.5h7M458.5 136v7M456 139.5h7M459.5 136v7M456 151.5h7M459.5 148v7M456 145.5h7M459.5 142v7M456 154.5h7M459.5 151v7M457 157.5h7M460.5 154v7M457 139.5h7M460.5 136v7M457 142.5h7M460.5 139v7M458 145.5h7M461.5 142v7M458 139.5h7M461.5 136v7M458 136.5h7M461.5 133v7M459 154.5h7M462.5 151v7M459 157.5h7M462.5 154v7M459 151.5h7M462.5 148v7M460 145.5h7M463.5 142v7M460 136.5h7M463.5 133v7M460 157.5h7M463.5 154v7M461 145.5h7M464.5 142v7M461 154.5h7M464.5 151v7M461 151.5h7M464.5 148v7M461 142.5h7M464.5 139v7M462 154.5h7M465.5 151v7M462 136.5h7M465.5 133v7M463 145.5h7M466.5 142v7M463 151.5h7M466.5 148v7M464 142.5h7M467.5 139v7M464 148.5h7M467.5 145v7M465 299.5h7M468.5 296v7M465 311.5h7M468.5 308v7M465 148.5h7M468.5 145v7M465 142.5h7M468.5 139v7M465 139.5h7M468.5 136v7M465 151.5h7M468.5 148v7M466 145.5h7M469.5 142v7M466 136.5h7M469.5 133v7M466 151.5h7M469.5 148v7M467 142.5h7M470.5 139v7M467 157.5h7M470.5 154v7M467 139.5h7M470.5 136v7M468 157.5h7M471.5 154v7M468 145.5h7M471.5 142v7M468 136.5h7M471.5 133v7M468 139.5h7M471.5 136v7M469 148.5h7M472.5 145v7M469 154.5h7M472.5 151v7M469 151.5h7M472.5 148v7M470 139.5h7M473.5 136v7M470 151.5h7M473.5 148v7M470 142.5h7M473.5 139v7M471 148.5h7M474.5 145v7M471 145.5h7M474.5 142v7M471 157.5h7M474.5 154v7M472 148.5h7M475.5 145v7M472 142.5h7M475.5 139v7M472 154.5h7M475.5 151v7M472 151.5h7M475.5 148v7M473 151.5h7M476.5 148v7M473 142.5h7M476.5 139v7M473 136.5h7M476.5 133v7M474 142.5h7M477.5 139v7M474 133.5h7M477.5 130v7M474 148.5h7M477.5 145v7M475 148.5h7M478.5 145v7M475 142.5h7M478.5 139v7M476 136.5h7M479.5 133v7M476 151.5h7M479.5 148v7M476 154.5h7M479.5 151v7M476 88.5h7M479.5 85v7M476 85.5h7M479.5 82v7M477 88.5h7M480.5 85v7M477 85.5h7M480.5 82v7M477 91.5h7M480.5 88v7M478 85.5h7M481.5 82v7M478 88.5h7M481.5 85v7M479 91.5h7M482.5 88v7M479 82.5h7M482.5 79v7M479 80.5h7M482.5 77v7M479 88.5h7M482.5 85v7M480 88.5h7M483.5 85v7M480 80.5h7M483.5 77v7M480 82.5h7M483.5 79v7M480 85.5h7M483.5 82v7M481 82.5h7M484.5 79v7M481 85.5h7M484.5 82v7M482 82.5h7M485.5 79v7M482 80.5h7M485.5 77v7M482 85.5h7M485.5 82v7M483 80.5h7M486.5 77v7M483 77.5h7M486.5 74v7M483 74.5h7M486.5 71v7M483 71.5h7M486.5 68v7M484 74.5h7M487.5 71v7M484 85.5h7M487.5 82v7M484 80.5h7M487.5 77v7M484 71.5h7M487.5 68v7M485 74.5h7M488.5 71v7M485 77.5h7M488.5 74v7M485 88.5h7M488.5 85v7M486 77.5h7M489.5 74v7M486 80.5h7M489.5 77v7M486 71.5h7M489.5 68v7M487 68.5h7M490.5 65v7M487 71.5h7M490.5 68v7M487 77.5h7M490.5 74v7M488 65.5h7M491.5 62v7M488 74.5h7M491.5 71v7M488 71.5h7M491.5 68v7M489 77.5h7M492.5 74v7M489 71.5h7M492.5 68v7M490 80.5h7M493.5 77v7M490 82.5h7M493.5 79v7M490 85.5h7M493.5 82v7M491 91.5h7M494.5 88v7M491 85.5h7M494.5 82v7M491 82.5h7M494.5 79v7M492 77.5h7M495.5 74v7M492 88.5h7M495.5 85v7M492 85.5h7M495.5 82v7M492 80.5h7M495.5 77v7M493 88.5h7M496.5 85v7M493 85.5h7M496.5 82v7M493 94.5h7M496.5 91v7M493 80.5h7M496.5 77v7M494 88.5h7M497.5 85v7M494 82.5h7M497.5 79v7M494 85.5h7M497.5 82v7M495 82.5h7M498.5 79v7M495 88.5h7M498.5 85v7M495 94.5h7M498.5 91v7M495 91.5h7M498.5 88v7M496 91.5h7M499.5 88v7M496 88.5h7M499.5 85v7M497 91.5h7M500.5 88v7M497 88.5h7M500.5 85v7M498 88.5h7M501.5 85v7M498 94.5h7M501.5 91v7M499 85.5h7M502.5 82v7M500 94.5h7M503.5 91v7M502 94.5h7M505.5 91v7M502 91.5h7M505.5 88v7M503 100.5h7M506.5 97v7M503 97.5h7M506.5 94v7M503 103.5h7M506.5 100v7M503 91.5h7M506.5 88v7M504 91.5h7M507.5 88v7M504 85.5h7M507.5 82v7M504 88.5h7M507.5 85v7M505 97.5h7M508.5 94v7M505 91.5h7M508.5 88v7M505 103.5h7M508.5 100v7M506 88.5h7M509.5 85v7M506 85.5h7M509.5 82v7M506 97.5h7M509.5 94v7M507 82.5h7M510.5 79v7M507 88.5h7M510.5 85v7M507 97.5h7M510.5 94v7M508 85.5h7M511.5 82v7M508 94.5h7M511.5 91v7M509 97.5h7M512.5 94v7M509 85.5h7M512.5 82v7M509 82.5h7M512.5 79v7M510 94.5h7M513.5 91v7M510 85.5h7M513.5 82v7M510 97.5h7M513.5 94v7M511 88.5h7M514.5 85v7M511 80.5h7M514.5 77v7M511 77.5h7M514.5 74v7M512 85.5h7M515.5 82v7M512 80.5h7M515.5 77v7M512 77.5h7M515.5 74v7M513 80.5h7M516.5 77v7M513 74.5h7M516.5 71v7M513 77.5h7M516.5 74v7M513 68.5h7M516.5 65v7M514 74.5h7M517.5 71v7M514 71.5h7M517.5 68v7M514 59.5h7M517.5 56v7M515 300.5h7M518.5 297v7M515 302.5h7M518.5 299v7M515 65.5h7M518.5 62v7M515 56.5h7M518.5 53v7M515 74.5h7M518.5 71v7M516 74.5h7M519.5 71v7M516 71.5h7M519.5 68v7M516 62.5h7M519.5 59v7M517 71.5h7M520.5 68v7M517 53.5h7M520.5 50v7M517 59.5h7M520.5 56v7M518 59.5h7M521.5 56v7M518 71.5h7M521.5 68v7M518 53.5h7M521.5 50v7M518 68.5h7M521.5 65v7M519 62.5h7M522.5 59v7M519 65.5h7M522.5 62v7M519 50.5h7M522.5 47v7M520 71.5h7M523.5 68v7M520 53.5h7M523.5 50v7M520 62.5h7M523.5 59v7M520 56.5h7M523.5 53v7M521 68.5h7M524.5 65v7M521 59.5h7M524.5 56v7M521 47.5h7M524.5 44v7M521 65.5h7M524.5 62v7M522 65.5h7M525.5 62v7M522 53.5h7M525.5 50v7M523 56.5h7M526.5 53v7M523 53.5h7M526.5 50v7M523 50.5h7M526.5 47v7M523 47.5h7M526.5 44v7M524 59.5h7M527.5 56v7M524 53.5h7M527.5 50v7M524 44.5h7M527.5 41v7M525 47.5h7M528.5 44v7M525 62.5h7M528.5 59v7M525 50.5h7M528.5 47v7M526 44.5h7M529.5 41v7M526 62.5h7M529.5 59v7M526 53.5h7M529.5 50v7M527 62.5h7M530.5 59v7M527 53.5h7M530.5 50v7M527 68.5h7M530.5 65v7M527 59.5h7M530.5 56v7M528 65.5h7M531.5 62v7M528 74.5h7M531.5 71v7M529 68.5h7M532.5 65v7M529 71.5h7M532.5 68v7M530 71.5h7M533.5 68v7M530 82.5h7M533.5 79v7M531 80.5h7M534.5 77v7M531 124.5h7M534.5 121v7M531 133.5h7M534.5 130v7M532 121.5h7M535.5 118v7M532 127.5h7M535.5 124v7M532 139.5h7M535.5 136v7M532 130.5h7M535.5 127v7M533 121.5h7M536.5 118v7M533 124.5h7M536.5 121v7M533 142.5h7M536.5 139v7M534 139.5h7M537.5 136v7M534 136.5h7M537.5 133v7M534 130.5h7M537.5 127v7M534 127.5h7M537.5 124v7M535 133.5h7M538.5 130v7M535 142.5h7M538.5 139v7M535 127.5h7M538.5 124v7M536 118.5h7M539.5 115v7M536 130.5h7M539.5 127v7M536 127.5h7M539.5 124v7M536 121.5h7M539.5 118v7M537 133.5h7M540.5 130v7M537 130.5h7M540.5 127v7M537 121.5h7M540.5 118v7M537 124.5h7M540.5 121v7M538 127.5h7M541.5 124v7M538 121.5h7M541.5 118v7M538 130.5h7M541.5 127v7M539 142.5h7M542.5 139v7M539 130.5h7M542.5 127v7M539 127.5h7M542.5 124v7M539 139.5h7M542.5 136v7M540 130.5h7M543.5 127v7M540 139.5h7M543.5 136v7M540 124.5h7M543.5 121v7M541 133.5h7M544.5 130v7M541 139.5h7M544.5 136v7M541 127.5h7M544.5 124v7M541 130.5h7M544.5 127v7M542 130.5h7M545.5 127v7M542 139.5h7M545.5 136v7M542 133.5h7M545.5 130v7M543 136.5h7M546.5 133v7M543 130.5h7M546.5 127v7M543 127.5h7M546.5 124v7M543 124.5h7M546.5 121v7M544 136.5h7M547.5 133v7M544 118.5h7M547.5 115v7M544 133.5h7M547.5 130v7M545 127.5h7M548.5 124v7M545 130.5h7M548.5 127v7M545 139.5h7M548.5 136v7M546 139.5h7M549.5 136v7M546 136.5h7M549.5 133v7M546 133.5h7M549.5 130v7M547 130.5h7M550.5 127v7M547 124.5h7M550.5 121v7M547 133.5h7M550.5 130v7M548 139.5h7M551.5 136v7M548 127.5h7M551.5 124v7M548 124.5h7M551.5 121v7M549 136.5h7M552.5 133v7M549 124.5h7M552.5 121v7M549 130.5h7M552.5 127v7M549 139.5h7M552.5 136v7M550 133.5h7M553.5 130v7M550 127.5h7M553.5 124v7M550 136.5h7M553.5 133v7M551 124.5h7M554.5 121v7M551 133.5h7M554.5 130v7M551 130.5h7M554.5 127v7M552 139.5h7M555.5 136v7M552 133.5h7M555.5 130v7M552 136.5h7M555.5 133v7M552 130.5h7M555.5 127v7M552 142.5h7M555.5 139v7M553 127.5h7M556.5 124v7M553 142.5h7M556.5 139v7M553 139.5h7M556.5 136v7M554 139.5h7M557.5 136v7M554 130.5h7M557.5 127v7M554 133.5h7M557.5 130v7M554 127.5h7M557.5 124v7M555 157.5h7M558.5 154v7M555 130.5h7M558.5 127v7M555 127.5h7M558.5 124v7M555 121.5h7M558.5 118v7M555 124.5h7M558.5 121v7M556 127.5h7M559.5 124v7M556 142.5h7M559.5 139v7M556 121.5h7M559.5 118v7M556 133.5h7M559.5 130v7M557 139.5h7M560.5 136v7M557 142.5h7M560.5 139v7M557 130.5h7M560.5 127v7M557 118.5h7M560.5 115v7M558 139.5h7M561.5 136v7M558 130.5h7M561.5 127v7M558 121.5h7M561.5 118v7M559 130.5h7M562.5 127v7M559 142.5h7M562.5 139v7M559 127.5h7M562.5 124v7M560 124.5h7M563.5 121v7M560 142.5h7M563.5 139v7M560 127.5h7M563.5 124v7M561 136.5h7M564.5 133v7M561 133.5h7M564.5 130v7M561 130.5h7M564.5 127v7M561 139.5h7M564.5 136v7M562 118.5h7M565.5 115v7M562 127.5h7M565.5 124v7M563 130.5h7M566.5 127v7M563 127.5h7M566.5 124v7M563 133.5h7M566.5 130v7M564 127.5h7M567.5 124v7M564 136.5h7M567.5 133v7M564 124.5h7M567.5 121v7M564 121.5h7M567.5 118v7M565 136.5h7M568.5 133v7M565 127.5h7M568.5 124v7M565 121.5h7M568.5 118v7M566 139.5h7M569.5 136v7M566 118.5h7M569.5 115v7M566 133.5h7M569.5 130v7M567 133.5h7M570.5 130v7M567 127.5h7M570.5 124v7M567 124.5h7M570.5 121v7M567 121.5h7M570.5 118v7M568 139.5h7M571.5 136v7M568 142.5h7M571.5 139v7M568 124.5h7M571.5 121v7M568 118.5h7M571.5 115v7M569 133.5h7M572.5 130v7M569 136.5h7M572.5 133v7M569 121.5h7M572.5 118v7M572 303.5h7M575.5 300v7M574 305.5h7M577.5 302v7M574 311.5h7M577.5 308v7M574 130.5h7M577.5 127v7M574 133.5h7M577.5 130v7M574 121.5h7M577.5 118v7M575 124.5h7M578.5 121v7M575 127.5h7M578.5 124v7M575 118.5h7M578.5 115v7M575 130.5h7M578.5 127v7M576 130.5h7M579.5 127v7M576 121.5h7M579.5 118v7M576 136.5h7M579.5 133v7M576 118.5h7M579.5 115v7M577 127.5h7M580.5 124v7M577 133.5h7M580.5 130v7M577 130.5h7M580.5 127v7M577 121.5h7M580.5 118v7M578 136.5h7M581.5 133v7M578 133.5h7M581.5 130v7M578 124.5h7M581.5 121v7M579 127.5h7M582.5 124v7M579 130.5h7M582.5 127v7M580 136.5h7M583.5 133v7M580 139.5h7M583.5 136v7M580 127.5h7M583.5 124v7M580 142.5h7M583.5 139v7M581 136.5h7M584.5 133v7M581 127.5h7M584.5 124v7M581 133.5h7M584.5 130v7M581 118.5h7M584.5 115v7M582 124.5h7M585.5 121v7M582 130.5h7M585.5 127v7M582 127.5h7M585.5 124v7M583 133.5h7M586.5 130v7M583 127.5h7M586.5 124v7M583 142.5h7M586.5 139v7M583 130.5h7M586.5 127v7M584 124.5h7M587.5 121v7M584 127.5h7M587.5 124v7M584 136.5h7M587.5 133v7M585 127.5h7M588.5 124v7M585 130.5h7M588.5 127v7M585 133.5h7M588.5 130v7M586 118.5h7M589.5 115v7M586 139.5h7M589.5 136v7M586 133.5h7M589.5 130v7M587 112.5h7M590.5 109v7M587 133.5h7M590.5 130v7M587 130.5h7M590.5 127v7M588 133.5h7M591.5 130v7M588 124.5h7M591.5 121v7M588 130.5h7M591.5 127v7M588 139.5h7M591.5 136v7M589 146.5h7M592.5 143v7M589 139.5h7M592.5 136v7M589 127.5h7M592.5 124v7M589 136.5h7M592.5 133v7M589 130.5h7M592.5 127v7M589 124.5h7M592.5 121v7M590 124.5h7M593.5 121v7M590 130.5h7M593.5 127v7M590 118.5h7M593.5 115v7M590 121.5h7M593.5 118v7M591 118.5h7M594.5 115v7M591 136.5h7M594.5 133v7M591 130.5h7M594.5 127v7M591 133.5h7M594.5 130v7M592 124.5h7M595.5 121v7M592 121.5h7M595.5 118v7M593 130.5h7M596.5 127v7M593 118.5h7M596.5 115v7M594 130.5h7M597.5 127v7M594 118.5h7M597.5 115v7M594 139.5h7M597.5 136v7M594 124.5h7M597.5 121v7M595 133.5h7M598.5 130v7M595 121.5h7M598.5 118v7M595 130.5h7M598.5 127v7M596 127.5h7M599.5 124v7M596 124.5h7M599.5 121v7M596 133.5h7M599.5 130v7M597 124.5h7M600.5 121v7M597 118.5h7M600.5 115v7M597 127.5h7M600.5 124v7M598 127.5h7M601.5 124v7M598 133.5h7M601.5 130v7M599 118.5h7M602.5 115v7M599 130.5h7M602.5 127v7M600 136.5h7M603.5 133v7M600 133.5h7M603.5 130v7M600 130.5h7M603.5 127v7M600 124.5h7M603.5 121v7M600 121.5h7M603.5 118v7M601 130.5h7M604.5 127v7M601 127.5h7M604.5 124v7M601 139.5h7M604.5 136v7M601 118.5h7M604.5 115v7M601 124.5h7M604.5 121v7M602 130.5h7M605.5 127v7M602 124.5h7M605.5 121v7M603 136.5h7M606.5 133v7M603 121.5h7M606.5 118v7M603 130.5h7M606.5 127v7M604 127.5h7M607.5 124v7M604 124.5h7M607.5 121v7M604 118.5h7M607.5 115v7M605 124.5h7M608.5 121v7M605 115.5h7M608.5 112v7M605 121.5h7M608.5 118v7M606 112.5h7M609.5 109v7M606 130.5h7M609.5 127v7M606 118.5h7M609.5 115v7M606 115.5h7M609.5 112v7M606 121.5h7M609.5 118v7M607 121.5h7M610.5 118v7M607 112.5h7M610.5 109v7M607 106.5h7M610.5 103v7M608 115.5h7M611.5 112v7M608 124.5h7M611.5 121v7M608 112.5h7M611.5 109v7M608 118.5h7M611.5 115v7M609 121.5h7M612.5 118v7M609 118.5h7M612.5 115v7M609 109.5h7M612.5 106v7M609 115.5h7M612.5 112v7M610 115.5h7M613.5 112v7M610 112.5h7M613.5 109v7M611 112.5h7M614.5 109v7M611 124.5h7M614.5 121v7M611 115.5h7M614.5 112v7M611 118.5h7M614.5 115v7M612 124.5h7M615.5 121v7M612 112.5h7M615.5 109v7M612 103.5h7M615.5 100v7M613 103.5h7M616.5 100v7M613 109.5h7M616.5 106v7M613 121.5h7M616.5 118v7M613 112.5h7M616.5 109v7M613 115.5h7M616.5 112v7M614 106.5h7M617.5 103v7M614 118.5h7M617.5 115v7M615 115.5h7M618.5 112v7M615 121.5h7M618.5 118v7M615 109.5h7M618.5 106v7M616 109.5h7M619.5 106v7M616 112.5h7M619.5 109v7M616 115.5h7M619.5 112v7M617 118.5h7M620.5 115v7M617 109.5h7M620.5 106v7M617 112.5h7M620.5 109v7M617 121.5h7M620.5 118v7M618 109.5h7M621.5 106v7M618 115.5h7M621.5 112v7M618 118.5h7M621.5 115v7M619 124.5h7M622.5 121v7M619 112.5h7M622.5 109v7M619 109.5h7M622.5 106v7M619 106.5h7M622.5 103v7M620 112.5h7M623.5 109v7M620 118.5h7M623.5 115v7M620 106.5h7M623.5 103v7M621 127.5h7M624.5 124v7M621 121.5h7M624.5 118v7M621 106.5h7M624.5 103v7M622 131.5h7M625.5 128v7M622 109.5h7M625.5 106v7M622 115.5h7M625.5 112v7M622 112.5h7M625.5 109v7M623 112.5h7M626.5 109v7M623 118.5h7M626.5 115v7M623 109.5h7M626.5 106v7M624 124.5h7M627.5 121v7M624 109.5h7M627.5 106v7M624 121.5h7M627.5 118v7M624 115.5h7M627.5 112v7M624 106.5h7M627.5 103v7M625 118.5h7M628.5 115v7M625 109.5h7M628.5 106v7M625 115.5h7M628.5 112v7M625 106.5h7M628.5 103v7M626 112.5h7M629.5 109v7M626 124.5h7M629.5 121v7M627 115.5h7M630.5 112v7M627 121.5h7M630.5 118v7M627 118.5h7M630.5 115v7M628 109.5h7M631.5 106v7M628 121.5h7M631.5 118v7M628 127.5h7M631.5 124v7M628 118.5h7M631.5 115v7M628 115.5h7M631.5 112v7M629 127.5h7M632.5 124v7M629 106.5h7M632.5 103v7M629 109.5h7M632.5 106v7M629 112.5h7M632.5 109v7M630 118.5h7M633.5 115v7M630 109.5h7M633.5 106v7M630 112.5h7M633.5 109v7M630 130.5h7M633.5 127v7M631 121.5h7M634.5 118v7M631 127.5h7M634.5 124v7M631 118.5h7M634.5 115v7M632 124.5h7M635.5 121v7M632 121.5h7M635.5 118v7M633 115.5h7M636.5 112v7M633 118.5h7M636.5 115v7M633 130.5h7M636.5 127v7M634 121.5h7M637.5 118v7M634 133.5h7M637.5 130v7M635 121.5h7M638.5 118v7M635 118.5h7M638.5 115v7M635 130.5h7M638.5 127v7M636 115.5h7M639.5 112v7M636 127.5h7M639.5 124v7M636 118.5h7M639.5 115v7M636 139.5h7M639.5 136v7M637 121.5h7M640.5 118v7M637 130.5h7M640.5 127v7M637 124.5h7M640.5 121v7M637 115.5h7M640.5 112v7M638 115.5h7M641.5 112v7M638 127.5h7M641.5 124v7M638 130.5h7M641.5 127v7M639 115.5h7M642.5 112v7M639 133.5h7M642.5 130v7M639 136.5h7M642.5 133v7M640 127.5h7M643.5 124v7M640 133.5h7M643.5 130v7M640 115.5h7M643.5 112v7M641 112.5h7M644.5 109v7M641 118.5h7M644.5 115v7M641 124.5h7M644.5 121v7M642 118.5h7M645.5 115v7M642 121.5h7M645.5 118v7M643 124.5h7M646.5 121v7M643 130.5h7M646.5 127v7M643 136.5h7M646.5 133v7M643 112.5h7M646.5 109v7M644 112.5h7M647.5 109v7M644 121.5h7M647.5 118v7M644 133.5h7M647.5 130v7M644 118.5h7M647.5 115v7M644 130.5h7M647.5 127v7M645 107.5h7M648.5 104v7M645 112.5h7M648.5 109v7M645 121.5h7M648.5 118v7M645 133.5h7M648.5 130v7M646 112.5h7M649.5 109v7M646 124.5h7M649.5 121v7M646 127.5h7M649.5 124v7M646 115.5h7M649.5 112v7M647 130.5h7M650.5 127v7M647 112.5h7M650.5 109v7M647 124.5h7M650.5 121v7M647 139.5h7M650.5 136v7M648 306.5h7M651.5 303v7M648 133.5h7M651.5 130v7M648 124.5h7M651.5 121v7M649 118.5h7M652.5 115v7M649 121.5h7M652.5 118v7M649 127.5h7M652.5 124v7M649 139.5h7M652.5 136v7M650 136.5h7M653.5 133v7M650 118.5h7M653.5 115v7M650 124.5h7M653.5 121v7M651 133.5h7M654.5 130v7M651 130.5h7M654.5 127v7M651 118.5h7M654.5 115v7M652 118.5h7M655.5 115v7M652 127.5h7M655.5 124v7M653 130.5h7M656.5 127v7M653 124.5h7M656.5 121v7M653 136.5h7M656.5 133v7M653 121.5h7M656.5 118v7M654 130.5h7M657.5 127v7M654 124.5h7M657.5 121v7M654 80.5h7M657.5 77v7M654 91.5h7M657.5 88v7M655 80.5h7M658.5 77v7M655 82.5h7M658.5 79v7M655 85.5h7M658.5 82v7M655 91.5h7M658.5 88v7M656 91.5h7M659.5 88v7M656 85.5h7M659.5 82v7M657 97.5h7M660.5 94v7M657 88.5h7M660.5 85v7M657 94.5h7M660.5 91v7M657 85.5h7M660.5 82v7M658 97.5h7M661.5 94v7M658 94.5h7M661.5 91v7M658 91.5h7M661.5 88v7M659 94.5h7M662.5 91v7M659 80.5h7M662.5 77v7M659 88.5h7M662.5 85v7M659 97.5h7M662.5 94v7M659 91.5h7M662.5 88v7M660 94.5h7M663.5 91v7M660 82.5h7M663.5 79v7M660 85.5h7M663.5 82v7M660 80.5h7M663.5 77v7M661 88.5h7M664.5 85v7M661 82.5h7M664.5 79v7M661 133.5h7M664.5 130v7M661 130.5h7M664.5 127v7M662 127.5h7M665.5 124v7M662 133.5h7M665.5 130v7M662 118.5h7M665.5 115v7M663 109.5h7M666.5 106v7M663 127.5h7M666.5 124v7M663 130.5h7M666.5 127v7M664 127.5h7M667.5 124v7M664 115.5h7M667.5 112v7M664 112.5h7M667.5 109v7M664 121.5h7M667.5 118v7M665 118.5h7M668.5 115v7M665 112.5h7M668.5 109v7M666 115.5h7M669.5 112v7M666 106.5h7M669.5 103v7M666 130.5h7M669.5 127v7M666 109.5h7M669.5 106v7M667 109.5h7M670.5 106v7M667 106.5h7M670.5 103v7M667 115.5h7M670.5 112v7M667 112.5h7M670.5 109v7M668 112.5h7M671.5 109v7M668 109.5h7M671.5 106v7M668 118.5h7M671.5 115v7M669 127.5h7M672.5 124v7M669 118.5h7M672.5 115v7M670 109.5h7M673.5 106v7M670 115.5h7M673.5 112v7M670 112.5h7M673.5 109v7M670 103.5h7M673.5 100v7M671 109.5h7M674.5 106v7M671 112.5h7M674.5 109v7M671 106.5h7M674.5 103v7M672 115.5h7M675.5 112v7M672 103.5h7M675.5 100v7M672 118.5h7M675.5 115v7M672 112.5h7M675.5 109v7M673 106.5h7M676.5 103v7M673 109.5h7M676.5 106v7M673 115.5h7M676.5 112v7M674 103.5h7M677.5 100v7M674 118.5h7M677.5 115v7M674 115.5h7M677.5 112v7M674 106.5h7M677.5 103v7M675 112.5h7M678.5 109v7M675 106.5h7M678.5 103v7M675 109.5h7M678.5 106v7M676 115.5h7M679.5 112v7M676 97.5h7M679.5 94v7M676 112.5h7M679.5 109v7M677 97.5h7M680.5 94v7M677 112.5h7M680.5 109v7M677 106.5h7M680.5 103v7M678 112.5h7M681.5 109v7M678 100.5h7M681.5 97v7M678 106.5h7M681.5 103v7M679 100.5h7M682.5 97v7M679 97.5h7M682.5 94v7M679 106.5h7M682.5 103v7M680 103.5h7M683.5 100v7M680 106.5h7M683.5 103v7M680 97.5h7M683.5 94v7M681 100.5h7M684.5 97v7M681 97.5h7M684.5 94v7M681 106.5h7M684.5 103v7M681 103.5h7M684.5 100v7M682 97.5h7M685.5 94v7M682 103.5h7M685.5 100v7M682 94.5h7M685.5 91v7M682 100.5h7M685.5 97v7M683 106.5h7M686.5 103v7M683 103.5h7M686.5 100v7M683 97.5h7M686.5 94v7M684 100.5h7M687.5 97v7M684 91.5h7M687.5 88v7M684 97.5h7M687.5 94v7M685 103.5h7M688.5 100v7M685 100.5h7M688.5 97v7M685 91.5h7M688.5 88v7M686 100.5h7M689.5 97v7M686 94.5h7M689.5 91v7M692 88.5h7M695.5 85v7M692 100.5h7M695.5 97v7M692 97.5h7M695.5 94v7M693 88.5h7M696.5 85v7M693 94.5h7M696.5 91v7M693 82.5h7M696.5 79v7M693 80.5h7M696.5 77v7M694 104.5h7M697.5 101v7M694 82.5h7M697.5 79v7M694 94.5h7M697.5 91v7M694 97.5h7M697.5 94v7M694 88.5h7M697.5 85v7M695 100.5h7M698.5 97v7M695 82.5h7M698.5 79v7M695 91.5h7M698.5 88v7M696 82.5h7M699.5 79v7M696 97.5h7M699.5 94v7M696 100.5h7M699.5 97v7M697 85.5h7M700.5 82v7M697 94.5h7M700.5 91v7M697 80.5h7M700.5 77v7M698 91.5h7M701.5 88v7M698 85.5h7M701.5 82v7M699 91.5h7M702.5 88v7M699 80.5h7M702.5 77v7M699 94.5h7M702.5 91v7M700 85.5h7M703.5 82v7M700 97.5h7M703.5 94v7M700 91.5h7M703.5 88v7M700 94.5h7M703.5 91v7M700 80.5h7M703.5 77v7M701 88.5h7M704.5 85v7M701 80.5h7M704.5 77v7M702 85.5h7M705.5 82v7M702 94.5h7M705.5 91v7M702 82.5h7M705.5 79v7M703 77.5h7M706.5 74v7M703 97.5h7M706.5 94v7M703 91.5h7M706.5 88v7M703 94.5h7M706.5 91v7M704 91.5h7M707.5 88v7M704 82.5h7M707.5 79v7M704 88.5h7M707.5 85v7M705 85.5h7M708.5 82v7M705 82.5h7M708.5 79v7M705 100.5h7M708.5 97v7M706 97.5h7M709.5 94v7M706 88.5h7M709.5 85v7M706 100.5h7M709.5 97v7M706 91.5h7M709.5 88v7M707 97.5h7M710.5 94v7M707 80.5h7M710.5 77v7M707 88.5h7M710.5 85v7M708 94.5h7M711.5 91v7M708 82.5h7M711.5 79v7M708 85.5h7M711.5 82v7M708 100.5h7M711.5 97v7M709 85.5h7M712.5 82v7M709 97.5h7M712.5 94v7M709 80.5h7M712.5 77v7M709 88.5h7M712.5 85v7M710 91.5h7M713.5 88v7M710 88.5h7M713.5 85v7M710 85.5h7M713.5 82v7M711 97.5h7M714.5 94v7M711 94.5h7M714.5 91v7M711 88.5h7M714.5 85v7M712 97.5h7M715.5 94v7M712 94.5h7M715.5 91v7M712 82.5h7M715.5 79v7M713 94.5h7M716.5 91v7M713 82.5h7M716.5 79v7M713 80.5h7M716.5 77v7M714 82.5h7M717.5 79v7M714 94.5h7M717.5 91v7M714 91.5h7M717.5 88v7M715 80.5h7M718.5 77v7M715 82.5h7M718.5 79v7M715 91.5h7M718.5 88v7M715 88.5h7M718.5 85v7M716 80.5h7M719.5 77v7M716 97.5h7M719.5 94v7M716 82.5h7M719.5 79v7M716 77.5h7M719.5 74v7M717 91.5h7M720.5 88v7M717 94.5h7M720.5 91v7M717 88.5h7M720.5 85v7M717 77.5h7M720.5 74v7M717 82.5h7M720.5 79v7M718 88.5h7M721.5 85v7M718 85.5h7M721.5 82v7M718 97.5h7M721.5 94v7" stroke="#ff0000"/>
</g>
<path d="M302 15h4v1h-4zM301 16h2v1h-2zM305 16h2v1h-2zM301 17h2v1h-2zM301 18h2v1h-2zM301 19h2v1h-2zM301 20h2v1h-2zM301 21h2v1h-2zM305 21h2v1h-2zM302 22h4v1h-4zM309 17h4v1h-4zM308 18h2v1h-2zM312 18h2v1h-2zM308 19h2v1h-2zM312 19h2v1h-2zM308 20h2v1h-2zM312 20h2v1h-2zM308 21h2v1h-2zM312 21h2v1h-2zM309 22h4v1h-4zM315 17h2v1h-2zM318 17h2v1h-2zM315 18h6v1h-6zM315 19h6v1h-6zM315 20h2v1h-2zM319 20h2v1h-2zM315 21h2v1h-2zM319 21h2v1h-2zM315 22h2v1h-2zM319 22h2v1h-2zM322 17h5v1h-5zM322 18h2v1h-2zM326 18h2v1h-2zM322 19h2v1h-2zM326 19h2v1h-2zM322 20h2v1h-2zM326 20h2v1h-2zM322 21h5v1h-5zM322 22h2v1h-2zM322 23h2v1h-2zM322 24h2v1h-2zM331 14h2v1h-2zM331 15h2v1h-2zM330 17h3v1h-3zM331 18h2v1h-2zM331 19h2v1h-2zM331 20h2v1h-2zM331 21h2v1h-2zM329 22h6v1h-6zM337 14h3v1h-3zM338 15h2v1h-2zM338 16h2v1h-2zM338 17h2v1h-2zM338 18h2v1h-2zM338 19h2v1h-2zM338 20h2v1h-2zM338 21h2v1h-2zM336 22h6v1h-6zM344 17h4v1h-4zM343 18h2v1h-2zM347 18h2v1h-2zM343 19h6v1h-6zM343 20h2v1h-2zM343 21h2v1h-2zM347 21h2v1h-2zM344 22h4v1h-4zM358 15h2v1h-2zM358 16h2v1h-2zM357 17h5v1h-5zM358 18h2v1h-2zM358 19h2v1h-2zM358 20h2v1h-2zM358 21h2v1h-2zM361 21h2v1h-2zM359 22h3v1h-3zM366 14h2v1h-2zM366 15h2v1h-2zM365 17h3v1h-3zM366 18h2v1h-2zM366 19h2v1h-2zM366 20h2v1h-2zM366 21h2v1h-2zM364 22h6v1h-6zM371 17h2v1h-2zM374 17h2v1h-2zM371 18h6v1h-6zM371 19h6v1h-6zM371 20h2v1h-2zM375 20h2v1h-2zM371 21h2v1h-2zM375 21h2v1h-2zM371 22h2v1h-2zM375 22h2v1h-2zM379 17h4v1h-4zM378 18h2v1h-2zM382 18h2v1h-2zM378 19h6v1h-6zM378 20h2v1h-2zM378 21h2v1h-2zM382 21h2v1h-2zM379 22h4v1h-4zM394 14h2v1h-2zM394 15h2v1h-2zM393 17h3v1h-3zM394 18h2v1h-2zM394 19h2v1h-2zM394 20h2v1h-2zM394 21h2v1h-2zM392 22h6v1h-6zM399 17h5v1h-5zM399 18h2v1h-2zM403 18h2v1h-2zM399 19h2v1h-2zM403 19h2v1h-2zM399 20h2v1h-2zM403 20h2v1h-2zM399 21h2v1h-2zM403 21h2v1h-2zM399 22h2v1h-2zM403 22h2v1h-2zM414 17h4v1h-4zM413 18h2v1h-2zM417 18h2v1h-2zM414 19h2v1h-2zM416 20h2v1h-2zM413 21h2v1h-2zM417 21h2v1h-2zM414 22h4v1h-4zM429 14h3v1h-3zM428 15h2v1h-2zM431 15h2v1h-2zM428 16h2v1h-2zM428 17h2v1h-2zM427 18h4v1h-4zM428 19h2v1h-2zM428 20h2v1h-2zM428 21h2v1h-2zM428 22h2v1h-2zM435 17h4v1h-4zM434 18h2v1h-2zM438 18h2v1h-2zM434 19h2v1h-2zM438 19h2v1h-2zM434 20h2v1h-2zM438 20h2v1h-2zM434 21h2v1h-2zM438 21h2v1h-2zM435 22h4v1h-4zM441 17h5v1h-5zM441 18h2v1h-2zM445 18h2v1h-2zM441 19h2v1h-2zM441 20h2v1h-2zM441 21h2v1h-2zM441 22h2v1h-2zM456 17h4v1h-4zM455 18h2v1h-2zM459 18h2v1h-2zM455 19h2v1h-2zM459 19h2v1h-2zM455 20h2v1h-2zM459 20h2v1h-2zM455 21h2v1h-2zM459 21h2v1h-2zM456 22h4v1h-4zM462 17h5v1h-5zM462 18h2v1h-2zM466 18h2v1h-2zM462 19h2v1h-2zM466 19h2v1h-2zM462 20h2v1h-2zM466 20h2v1h-2zM462 21h5v1h-5zM462 22h2v1h-2zM462 23h2v1h-2zM462 24h2v1h-2zM470 17h4v1h-4zM469 18h2v1h-2zM473 18h2v1h-2zM469 19h6v1h-6zM469 20h2v1h-2zM469 21h2v1h-2zM473 21h2v1h-2zM470 22h4v1h-4zM476 17h5v1h-5zM476 18h2v1h-2zM480 18h2v1h-2zM476 19h2v1h-2zM476 20h2v1h-2zM476 21h2v1h-2zM476 22h2v1h-2zM484 17h4v1h-4zM487 18h2v1h-2zM484 19h5v1h-5zM483 20h2v1h-2zM487 20h2v1h-2zM483 21h2v1h-2zM487 21h2v1h-2zM484 22h5v1h-5zM491 15h2v1h-2zM491 16h2v1h-2zM490 17h5v1h-5zM491 18h2v1h-2zM491 19h2v1h-2zM491 20h2v1h-2zM491 21h2v1h-2zM494 21h2v1h-2zM492 22h3v1h-3zM499 14h2v1h-2zM499 15h2v1h-2zM498 17h3v1h-3zM499 18h2v1h-2zM499 19h2v1h-2zM499 20h2v1h-2zM499 21h2v1h-2zM497 22h6v1h-6zM505 17h4v1h-4zM504 18h2v1h-2zM508 18h2v1h-2zM504 19h2v1h-2zM508 19h2v1h-2zM504 20h2v1h-2zM508 20h2v1h-2zM504 21h2v1h-2zM508 21h2v1h-2zM505 22h4v1h-4zM511 17h5v1h-5zM511 18h2v1h-2zM515 18h2v1h-2zM511 19h2v1h-2zM515 19h2v1h-2zM511 20h2v1h-2zM515 20h2v1h-2zM511 21h2v1h-2zM515 21h2v1h-2zM511 22h2v1h-2zM515 22h2v1h-2zM520 21h2v1h-2zM519 22h4v1h-4zM520 23h2v1h-2zM526 17h4v1h-4zM525 18h2v1h-2zM529 18h2v1h-2zM525 19h2v1h-2zM525 20h2v1h-2zM525 21h2v1h-2zM529 21h2v1h-2zM526 22h4v1h-4zM533 17h4v1h-4zM532 18h2v1h-2zM536 18h2v1h-2zM532 19h2v1h-2zM532 20h2v1h-2zM532 21h2v1h-2zM536 21h2v1h-2zM533 22h4v1h-4zM69 47h4v1h-4zM68 48h2v1h-2zM72 48h2v1h-2zM68 49h2v1h-2zM72 49h2v1h-2zM68 50h2v1h-2zM72 50h2v1h-2zM68 51h2v1h-2zM72 51h2v1h-2zM69 52h4v1h-4zM75 47h5v1h-5zM75 48h2v1h-2zM79 48h2v1h-2zM75 49h2v1h-2zM79 49h2v1h-2zM75 50h2v1h-2zM79 50h2v1h-2zM75 51h5v1h-5zM75 52h2v1h-2zM75 53h2v1h-2zM75 54h2v1h-2zM83 47h4v1h-4zM82 48h2v1h-2zM86 48h2v1h-2zM82 49h6v1h-6zM82 50h2v1h-2zM82 51h2v1h-2zM86 51h2v1h-2zM83 52h4v1h-4zM89 47h5v1h-5zM89 48h2v1h-2zM93 48h2v1h-2zM89 49h2v1h-2zM89 50h2v1h-2zM89 51h2v1h-2zM89 52h2v1h-2zM97 47h4v1h-4zM100 48h2v1h-2zM97 49h5v1h-5zM96 50h2v1h-2zM100 50h2v1h-2zM96 51h2v1h-2zM100 51h2v1h-2zM97 52h5v1h-5zM104 45h2v1h-2zM104 46h2v1h-2zM103 47h5v1h-5zM104 48h2v1h-2zM104 49h2v1h-2zM104 50h2v1h-2zM104 51h2v1h-2zM107 51h2v1h-2zM105 52h3v1h-3zM112 44h2v1h-2zM112 45h2v1h-2zM111 47h3v1h-3zM112 48h2v1h-2zM112 49h2v1h-2zM112 50h2v1h-2zM112 51h2v1h-2zM110 52h6v1h-6zM118 47h4v1h-4zM117 48h2v1h-2zM121 48h2v1h-2zM117 49h2v1h-2zM121 49h2v1h-2zM117 50h2v1h-2zM121 50h2v1h-2zM117 51h2v1h-2zM121 51h2v1h-2zM118 52h4v1h-4zM124 47h5v1h-5zM124 48h2v1h-2zM128 48h2v1h-2zM124 49h2v1h-2zM128 49h2v1h-2zM124 50h2v1h-2zM128 50h2v1h-2zM124 51h2v1h-2zM128 51h2v1h-2zM124 52h2v1h-2zM128 52h2v1h-2zM133 51h2v1h-2zM132 52h4v1h-4zM133 53h2v1h-2zM139 47h4v1h-4zM138 48h2v1h-2zM142 48h2v1h-2zM138 49h2v1h-2zM138 50h2v1h-2zM138 51h2v1h-2zM142 51h2v1h-2zM139 52h4v1h-4zM146 47h4v1h-4zM145 48h2v1h-2zM149 48h2v1h-2zM145 49h2v1h-2zM145 50h2v1h-2zM145 51h2v1h-2zM149 51h2v1h-2zM146 52h4v1h-4zM72 58h2v1h-2zM71 59h3v1h-3zM70 60h4v1h-4zM69 61h2v1h-2zM72 61h2v1h-2zM68 62h2v1h-2zM72 62h2v1h-2zM68 63h6v1h-6zM72 64h2v1h-2zM72 65h2v1h-2zM77 64h2v1h-2zM76 65h4v1h-4zM77 66h2v1h-2zM84 58h2v1h-2zM83 59h3v1h-3zM82 60h4v1h-4zM84 61h2v1h-2zM84 62h2v1h-2zM84 63h2v1h-2zM84 64h2v1h-2zM82 65h6v1h-6zM91 64h2v1h-2zM90 65h4v1h-4zM91 66h2v1h-2zM97 58h4v1h-4zM96 59h2v1h-2zM100 59h2v1h-2zM96 60h2v1h-2zM100 60h2v1h-2zM99 61h2v1h-2zM98 62h2v1h-2zM97 63h2v1h-2zM96 64h2v1h-2zM96 65h6v1h-6zM68 71h6v1h-6zM70 72h2v1h-2zM70 73h2v1h-2zM70 74h2v1h-2zM70 75h2v1h-2zM70 76h2v1h-2zM70 77h2v1h-2zM68 78h6v1h-6zM76 71h4v1h-4zM75 72h2v1h-2zM79 72h2v1h-2zM75 73h2v1h-2zM75 74h2v1h-2zM75 75h2v1h-2zM75 76h2v1h-2zM75 77h2v1h-2zM79 77h2v1h-2zM76 78h4v1h-4zM83 71h4v1h-4zM82 72h2v1h-2zM86 72h2v1h-2zM82 73h2v1h-2zM82 74h2v1h-2zM82 75h2v1h-2zM82 76h2v1h-2zM82 77h2v1h-2zM86 77h2v1h-2zM83 78h4v1h-4zM89 74h6v1h-6zM89 75h6v1h-6zM97 71h4v1h-4zM96 72h2v1h-2zM100 72h2v1h-2zM96 73h2v1h-2zM100 73h2v1h-2zM96 74h2v1h-2zM100 74h2v1h-2zM97 75h5v1h-5zM100 76h2v1h-2zM96 77h2v1h-2zM100 77h2v1h-2zM97 78h4v1h-4zM105 77h2v1h-2zM104 78h4v1h-4zM105 79h2v1h-2zM111 71h4v1h-4zM110 72h2v1h-2zM114 72h2v1h-2zM110 73h2v1h-2zM114 73h2v1h-2zM110 74h2v1h-2zM113 74h3v1h-3zM110 75h3v1h-3zM114 75h2v1h-2zM110 76h2v1h-2zM114 76h2v1h-2zM110 77h2v1h-2zM114 77h2v1h-2zM111 78h4v1h-4zM49 450h2v1h-2zM48 451h3v1h-3zM47 452h4v1h-4zM49 453h2v1h-2zM49 454h2v1h-2zM49 455h2v1h-2zM49 456h2v1h-2zM47 457h6v1h-6zM35 391h2v1h-2zM34 392h3v1h-3zM33 393h4v1h-4zM35 394h2v1h-2zM35 395h2v1h-2zM35 396h2v1h-2zM35 397h2v1h-2zM33 398h6v1h-6zM42 397h2v1h-2zM41 398h4v1h-4zM42 399h2v1h-2zM48 391h4v1h-4zM47 392h2v1h-2zM51 392h2v1h-2zM47 393h2v1h-2zM51 393h2v1h-2zM50 394h2v1h-2zM49 395h2v1h-2zM48 396h2v1h-2zM47 397h2v1h-2zM47 398h6v1h-6zM35 331h2v1h-2zM34 332h3v1h-3zM33 333h4v1h-4zM35 334h2v1h-2zM35 335h2v1h-2zM35 336h2v1h-2zM35 337h2v1h-2zM33 338h6v1h-6zM42 337h2v1h-2zM41 338h4v1h-4zM42 339h2v1h-2zM51 331h2v1h-2zM50 332h3v1h-3zM49 333h4v1h-4zM48 334h2v1h-2zM51 334h2v1h-2zM47 335h2v1h-2zM51 335h2v1h-2zM47 336h6v1h-6zM51 337h2v1h-2zM51 338h2v1h-2zM35 272h2v1h-2zM34 273h3v1h-3zM33 274h4v1h-4zM35 275h2v1h-2zM35 276h2v1h-2zM35 277h2v1h-2zM35 278h2v1h-2zM33 279h6v1h-6zM42 278h2v1h-2zM41 279h4v1h-4zM42 280h2v1h-2zM48 272h4v1h-4zM47 273h2v1h-2zM51 273h2v1h-2zM47 274h2v1h-2zM47 275h5v1h-5zM47 276h2v1h-2zM51 276h2v1h-2zM47 277h2v1h-2zM51 277h2v1h-2zM47 278h2v1h-2zM51 278h2v1h-2zM48 279h4v1h-4zM35 213h2v1h-2zM34 214h3v1h-3zM33 215h4v1h-4zM35 216h2v1h-2zM35 217h2v1h-2zM35 218h2v1h-2zM35 219h2v1h-2zM33 220h6v1h-6zM42 219h2v1h-2zM41 220h4v1h-4zM42 221h2v1h-2zM48 213h4v1h-4zM47 214h2v1h-2zM51 214h2v1h-2zM47 215h2v1h-2zM51 215h2v1h-2zM48 216h4v1h-4zM47 217h2v1h-2zM51 217h2v1h-2zM47 218h2v1h-2zM51 218h2v1h-2zM47 219h2v1h-2zM51 219h2v1h-2zM48 220h4v1h-4zM48 154h4v1h-4zM47 155h2v1h-2zM51 155h2v1h-2zM47 156h2v1h-2zM51 156h2v1h-2zM50 157h2v1h-2zM49 158h2v1h-2zM48 159h2v1h-2zM47 160h2v1h-2zM47 161h6v1h-6zM34 94h4v1h-4zM33 95h2v1h-2zM37 95h2v1h-2zM33 96h2v1h-2zM37 96h2v1h-2zM36 97h2v1h-2zM35 98h2v1h-2zM34 99h2v1h-2zM33 100h2v1h-2zM33 101h6v1h-6zM42 100h2v1h-2zM41 101h4v1h-4zM42 102h2v1h-2zM48 94h4v1h-4zM47 95h2v1h-2zM51 95h2v1h-2zM47 96h2v1h-2zM51 96h2v1h-2zM50 97h2v1h-2zM49 98h2v1h-2zM48 99h2v1h-2zM47 100h2v1h-2zM47 101h6v1h-6zM34 35h4v1h-4zM33 36h2v1h-2zM37 36h2v1h-2zM33 37h2v1h-2zM37 37h2v1h-2zM36 38h2v1h-2zM35 39h2v1h-2zM34 40h2v1h-2zM33 41h2v1h-2zM33 42h6v1h-6zM42 41h2v1h-2zM41 42h4v1h-4zM42 43h2v1h-2zM51 35h2v1h-2zM50 36h3v1h-3zM49 37h4v1h-4zM48 38h2v1h-2zM51 38h2v1h-2zM47 39h2v1h-2zM51 39h2v1h-2zM47 40h6v1h-6zM51 41h2v1h-2zM51 42h2v1h-2zM34 463h4v1h-4zM33 464h2v1h-2zM37 464h2v1h-2zM33 465h2v1h-2zM37 465h2v1h-2zM33 466h2v1h-2zM36 466h3v1h-3zM33 467h3v1h-3zM37 467h2v1h-2zM33 468h2v1h-2zM37 468h2v1h-2zM33 469h2v1h-2zM37 469h2v1h-2zM34 470h4v1h-4zM42 463h2v1h-2zM41 464h3v1h-3zM40 465h4v1h-4zM42 466h2v1h-2zM42 467h2v1h-2zM42 468h2v1h-2zM42 469h2v1h-2zM40 470h6v1h-6zM51 462h2v1h-2zM51 463h2v1h-2zM50 464h2v1h-2zM50 465h2v1h-2zM49 466h2v1h-2zM48 467h2v1h-2zM48 468h2v1h-2zM47 469h2v1h-2zM47 470h2v1h-2zM55 463h4v1h-4zM54 464h2v1h-2zM58 464h2v1h-2zM54 465h2v1h-2zM58 465h2v1h-2zM54 466h2v1h-2zM57 466h3v1h-3zM54 467h3v1h-3zM58 467h2v1h-2zM54 468h2v1h-2zM58 468h2v1h-2zM54 469h2v1h-2zM58 469h2v1h-2zM55 470h4v1h-4zM63 463h2v1h-2zM62 464h3v1h-3zM61 465h4v1h-4zM63 466h2v1h-2zM63 467h2v1h-2zM63 468h2v1h-2zM63 469h2v1h-2zM61 470h6v1h-6zM72 462h2v1h-2zM72 463h2v1h-2zM71 464h2v1h-2zM71 465h2v1h-2zM70 466h2v1h-2zM69 467h2v1h-2zM69 468h2v1h-2zM68 469h2v1h-2zM68 470h2v1h-2zM76 463h4v1h-4zM75 464h2v1h-2zM79 464h2v1h-2zM75 465h2v1h-2zM79 465h2v1h-2zM75 466h2v1h-2zM78 466h3v1h-3zM75 467h3v1h-3zM79 467h2v1h-2zM75 468h2v1h-2zM79 468h2v1h-2zM75 469h2v1h-2zM79 469h2v1h-2zM76 470h4v1h-4zM82 463h6v1h-6zM86 464h2v1h-2zM85 465h2v1h-2zM85 466h2v1h-2zM84 467h2v1h-2zM84 468h2v1h-2zM83 469h2v1h-2zM83 470h2v1h-2zM114 463h4v1h-4zM113 464h2v1h-2zM117 464h2v1h-2zM113 465h2v1h-2zM117 465h2v1h-2zM113 466h2v1h-2zM116 466h3v1h-3zM113 467h3v1h-3zM117 467h2v1h-2zM113 468h2v1h-2zM117 468h2v1h-2zM113 469h2v1h-2zM117 469h2v1h-2zM114 470h4v1h-4zM122 463h2v1h-2zM121 464h3v1h-3zM120 465h4v1h-4zM122 466h2v1h-2zM122 467h2v1h-2zM122 468h2v1h-2zM122 469h2v1h-2zM120 470h6v1h-6zM131 462h2v1h-2zM131 463h2v1h-2zM130 464h2v1h-2zM130 465h2v1h-2zM129 466h2v1h-2zM128 467h2v1h-2zM128 468h2v1h-2zM127 469h2v1h-2zM127 470h2v1h-2zM135 463h4v1h-4zM134 464h2v1h-2zM138 464h2v1h-2zM134 465h2v1h-2zM138 465h2v1h-2zM134 466h2v1h-2zM137 466h3v1h-3zM134 467h3v1h-3zM138 467h2v1h-2zM134 468h2v1h-2zM138 468h2v1h-2zM134 469h2v1h-2zM138 469h2v1h-2zM135 470h4v1h-4zM143 463h2v1h-2zM142 464h3v1h-3zM141 465h4v1h-4zM143 466h2v1h-2zM143 467h2v1h-2zM143 468h2v1h-2zM143 469h2v1h-2zM141 470h6v1h-6zM152 462h2v1h-2zM152 463h2v1h-2zM151 464h2v1h-2zM151 465h2v1h-2zM150 466h2v1h-2zM149 467h2v1h-2zM149 468h2v1h-2zM148 469h2v1h-2zM148 470h2v1h-2zM156 463h4v1h-4zM155 464h2v1h-2zM159 464h2v1h-2zM155 465h2v1h-2zM159 465h2v1h-2zM155 466h2v1h-2zM158 466h3v1h-3zM155 467h3v1h-3zM159 467h2v1h-2zM155 468h2v1h-2zM159 468h2v1h-2zM155 469h2v1h-2zM159 469h2v1h-2zM156 470h4v1h-4zM163 463h4v1h-4zM162 464h2v1h-2zM166 464h2v1h-2zM162 465h2v1h-2zM166 465h2v1h-2zM163 466h4v1h-4zM162 467h2v1h-2zM166 467h2v1h-2zM162 468h2v1h-2zM166 468h2v1h-2zM162 469h2v1h-2zM166 469h2v1h-2zM163 470h4v1h-4zM194 463h4v1h-4zM193 464h2v1h-2zM197 464h2v1h-2zM193 465h2v1h-2zM197 465h2v1h-2zM193 466h2v1h-2zM196 466h3v1h-3zM193 467h3v1h-3zM197 467h2v1h-2zM193 468h2v1h-2zM197 468h2v1h-2zM193 469h2v1h-2zM197 469h2v1h-2zM194 470h4v1h-4zM202 463h2v1h-2zM201 464h3v1h-3zM200 465h4v1h-4zM202 466h2v1h-2zM202 467h2v1h-2zM202 468h2v1h-2zM202 469h2v1h-2zM200 470h6v1h-6zM211 462h2v1h-2zM211 463h2v1h-2zM210 464h2v1h-2zM210 465h2v1h-2zM209 466h2v1h-2zM208 467h2v1h-2zM208 468h2v1h-2zM207 469h2v1h-2zM207 470h2v1h-2zM215 463h4v1h-4zM214 464h2v1h-2zM218 464h2v1h-2zM214 465h2v1h-2zM218 465h2v1h-2zM214 466h2v1h-2zM217 466h3v1h-3zM214 467h3v1h-3zM218 467h2v1h-2zM214 468h2v1h-2zM218 468h2v1h-2zM214 469h2v1h-2zM218 469h2v1h-2zM215 470h4v1h-4zM223 463h2v1h-2zM222 464h3v1h-3zM221 465h4v1h-4zM223 466h2v1h-2zM223 467h2v1h-2zM223 468h2v1h-2zM223 469h2v1h-2zM221 470h6v1h-6zM232 462h2v1h-2zM232 463h2v1h-2zM231 464h2v1h-2zM231 465h2v1h-2zM230 466h2v1h-2zM229 467h2v1h-2zM229 468h2v1h-2zM228 469h2v1h-2zM228 470h2v1h-2zM236 463h4v1h-4zM235 464h2v1h-2zM239 464h2v1h-2zM235 465h2v1h-2zM239 465h2v1h-2zM235 466h2v1h-2zM238 466h3v1h-3zM235 467h3v1h-3zM239 467h2v1h-2zM235 468h2v1h-2zM239 468h2v1h-2zM235 469h2v1h-2zM239 469h2v1h-2zM236 470h4v1h-4zM243 463h4v1h-4zM242 464h2v1h-2zM246 464h2v1h-2zM242 465h2v1h-2zM246 465h2v1h-2zM242 466h2v1h-2zM246 466h2v1h-2zM243 467h5v1h-5zM246 468h2v1h-2zM242 469h2v1h-2zM246 469h2v1h-2zM243 470h4v1h-4zM273 463h4v1h-4zM272 464h2v1h-2zM276 464h2v1h-2zM272 465h2v1h-2zM276 465h2v1h-2zM272 466h2v1h-2zM275 466h3v1h-3zM272 467h3v1h-3zM276 467h2v1h-2zM272 468h2v1h-2zM276 468h2v1h-2zM272 469h2v1h-2zM276 469h2v1h-2zM273 470h4v1h-4zM281 463h2v1h-2zM280 464h3v1h-3zM279 465h4v1h-4zM281 466h2v1h-2zM281 467h2v1h-2zM281 468h2v1h-2zM281 469h2v1h-2zM279 470h6v1h-6zM290 462h2v1h-2zM290 463h2v1h-2zM289 464h2v1h-2zM289 465h2v1h-2zM288 466h2v1h-2zM287 467h2v1h-2zM287 468h2v1h-2zM286 469h2v1h-2zM286 470h2v1h-2zM294 463h4v1h-4zM293 464h2v1h-2zM297 464h2v1h-2zM293 465h2v1h-2zM297 465h2v1h-2zM293 466h2v1h-2zM296 466h3v1h-3zM293 467h3v1h-3zM297 467h2v1h-2zM293 468h2v1h-2zM297 468h2v1h-2zM293 469h2v1h-2zM297 469h2v1h-2zM294 470h4v1h-4zM302 463h2v1h-2zM301 464h3v1h-3zM300 465h4v1h-4zM302 466h2v1h-2zM302 467h2v1h-2zM302 468h2v1h-2zM302 469h2v1h-2zM300 470h6v1h-6zM311 462h2v1h-2zM311 463h2v1h-2zM310 464h2v1h-2zM310 465h2v1h-2zM309 466h2v1h-2zM308 467h2v1h-2zM308 468h2v1h-2zM307 469h2v1h-2zM307 470h2v1h-2zM316 463h2v1h-2zM315 464h3v1h-3zM314 465h4v1h-4zM316 466h2v1h-2zM316 467h2v1h-2zM316 468h2v1h-2zM316 469h2v1h-2zM314 470h6v1h-6zM322 463h4v1h-4zM321 464h2v1h-2zM325 464h2v1h-2zM321 465h2v1h-2zM325 465h2v1h-2zM321 466h2v1h-2zM324 466h3v1h-3zM321 467h3v1h-3zM325 467h2v1h-2zM321 468h2v1h-2zM325 468h2v1h-2zM321 469h2v1h-2zM325 469h2v1h-2zM322 470h4v1h-4zM353 463h4v1h-4zM352 464h2v1h-2zM356 464h2v1h-2zM352 465h2v1h-2zM356 465h2v1h-2zM352 466h2v1h-2zM355 466h3v1h-3zM352 467h3v1h-3zM356 467h2v1h-2zM352 468h2v1h-2zM356 468h2v1h-2zM352 469h2v1h-2zM356 469h2v1h-2zM353 470h4v1h-4zM361 463h2v1h-2zM360 464h3v1h-3zM359 465h4v1h-4zM361 466h2v1h-2zM361 467h2v1h-2zM361 468h2v1h-2zM361 469h2v1h-2zM359 470h6v1h-6zM370 462h2v1h-2zM370 463h2v1h-2zM369 464h2v1h-2zM369 465h2v1h-2zM368 466h2v1h-2zM367 467h2v1h-2zM367 468h2v1h-2zM366 469h2v1h-2zM366 470h2v1h-2zM374 463h4v1h-4zM373 464h2v1h-2zM377 464h2v1h-2zM373 465h2v1h-2zM377 465h2v1h-2zM373 466h2v1h-2zM376 466h3v1h-3zM373 467h3v1h-3zM377 467h2v1h-2zM373 468h2v1h-2zM377 468h2v1h-2zM373 469h2v1h-2zM377 469h2v1h-2zM374 470h4v1h-4zM382 463h2v1h-2zM381 464h3v1h-3zM380 465h4v1h-4zM382 466h2v1h-2zM382 467h2v1h-2zM382 468h2v1h-2zM382 469h2v1h-2zM380 470h6v1h-6zM391 462h2v1h-2zM391 463h2v1h-2zM390 464h2v1h-2zM390 465h2v1h-2zM389 466h2v1h-2zM388 467h2v1h-2zM388 468h2v1h-2zM387 469h2v1h-2zM387 470h2v1h-2zM396 463h2v1h-2zM395 464h3v1h-3zM394 465h4v1h-4zM396 466h2v1h-2zM396 467h2v1h-2zM396 468h2v1h-2zM396 469h2v1h-2zM394 470h6v1h-6zM403 463h2v1h-2zM402 464h3v1h-3zM401 465h4v1h-4zM403 466h2v1h-2zM403 467h2v1h-2zM403 468h2v1h-2zM403 469h2v1h-2zM401 470h6v1h-6zM433 463h4v1h-4zM432 464h2v1h-2zM436 464h2v1h-2zM432 465h2v1h-2zM436 465h2v1h-2zM432 466h2v1h-2zM435 466h3v1h-3zM432 467h3v1h-3zM436 467h2v1h-2zM432 468h2v1h-2zM436 468h2v1h-2zM432 469h2v1h-2zM436 469h2v1h-2zM433 470h4v1h-4zM441 463h2v1h-2zM440 464h3v1h-3zM439 465h4v1h-4zM441 466h2v1h-2zM441 467h2v1h-2zM441 468h2v1h-2zM441 469h2v1h-2zM439 470h6v1h-6zM450 462h2v1h-2zM450 463h2v1h-2zM449 464h2v1h-2zM449 465h2v1h-2zM448 466h2v1h-2zM447 467h2v1h-2zM447 468h2v1h-2zM446 469h2v1h-2zM446 470h2v1h-2zM454 463h4v1h-4zM453 464h2v1h-2zM457 464h2v1h-2zM453 465h2v1h-2zM457 465h2v1h-2zM453 466h2v1h-2zM456 466h3v1h-3zM453 467h3v1h-3zM457 467h2v1h-2zM453 468h2v1h-2zM457 468h2v1h-2zM453 469h2v1h-2zM457 469h2v1h-2zM454 470h4v1h-4zM462 463h2v1h-2zM461 464h3v1h-3zM460 465h4v1h-4zM462 466h2v1h-2zM462 467h2v1h-2zM462 468h2v1h-2zM462 469h2v1h-2zM460 470h6v1h-6zM471 462h2v1h-2zM471 463h2v1h-2zM470 464h2v1h-2zM470 465h2v1h-2zM469 466h2v1h-2zM468 467h2v1h-2zM468 468h2v1h-2zM467 469h2v1h-2zM467 470h2v1h-2zM476 463h2v1h-2zM475 464h3v1h-3zM474 465h4v1h-4zM476 466h2v1h-2zM476 467h2v1h-2zM476 468h2v1h-2zM476 469h2v1h-2zM474 470h6v1h-6zM482 463h4v1h-4zM481 464h2v1h-2zM485 464h2v1h-2zM481 465h2v1h-2zM485 465h2v1h-2zM484 466h2v1h-2zM483 467h2v1h-2zM482 468h2v1h-2zM481 469h2v1h-2zM481 470h6v1h-6zM513 463h4v1h-4zM512 464h2v1h-2zM516 464h2v1h-2zM512 465h2v1h-2zM516 465h2v1h-2zM512 466h2v1h-2zM515 466h3v1h-3zM512 467h3v1h-3zM516 467h2v1h-2zM512 468h2v1h-2zM516 468h2v1h-2zM512 469h2v1h-2zM516 469h2v1h-2zM513 470h4v1h-4zM521 463h2v1h-2zM520 464h3v1h-3zM519 465h4v1h-4zM521 466h2v1h-2zM521 467h2v1h-2zM521 468h2v1h-2zM521 469h2v1h-2zM519 470h6v1h-6zM530 462h2v1h-2zM530 463h2v1h-2zM529 464h2v1h-2zM529 465h2v1h-2zM528 466h2v1h-2zM527 467h2v1h-2zM527 468h2v1h-2zM526 469h2v1h-2zM526 470h2v1h-2zM534 463h4v1h-4zM533 464h2v1h-2zM537 464h2v1h-2zM533 465h2v1h-2zM537 465h2v1h-2zM533 466h2v1h-2zM536 466h3v1h-3zM533 467h3v1h-3zM537 467h2v1h-2zM533 468h2v1h-2zM537 468h2v1h-2zM533 469h2v1h-2zM537 469h2v1h-2zM534 470h4v1h-4zM542 463h2v1h-2zM541 464h3v1h-3zM540 465h4v1h-4zM542 466h2v1h-2zM542 467h2v1h-2zM542 468h2v1h-2zM542 469h2v1h-2zM540 470h6v1h-6zM551 462h2v1h-2zM551 463h2v1h-2zM550 464h2v1h-2zM550 465h2v1h-2zM549 466h2v1h-2zM548 467h2v1h-2zM548 468h2v1h-2zM547 469h2v1h-2zM547 470h2v1h-2zM556 463h2v1h-2zM555 464h3v1h-3zM554 465h4v1h-4zM556 466h2v1h-2zM556 467h2v1h-2zM556 468h2v1h-2zM556 469h2v1h-2zM554 470h6v1h-6zM562 463h4v1h-4zM561 464h2v1h-2zM565 464h2v1h-2zM565 465h2v1h-2zM562 466h4v1h-4zM565 467h2v1h-2zM565 468h2v1h-2zM561 469h2v1h-2zM565 469h2v1h-2zM562 470h4v1h-4zM593 463h4v1h-4zM592 464h2v1h-2zM596 464h2v1h-2zM592 465h2v1h-2zM596 465h2v1h-2zM592 466h2v1h-2zM595 466h3v1h-3zM592 467h3v1h-3zM596 467h2v1h-2zM592 468h2v1h-2zM596 468h2v1h-2zM592 469h2v1h-2zM596 469h2v1h-2zM593 470h4v1h-4zM601 463h2v1h-2zM600 464h3v1h-3zM599 465h4v1h-4zM601 466h2v1h-2zM601 467h2v1h-2zM601 468h2v1h-2zM601 469h2v1h-2zM599 470h6v1h-6zM610 462h2v1h-2zM610 463h2v1h-2zM609 464h2v1h-2zM609 465h2v1h-2zM608 466h2v1h-2zM607 467h2v1h-2zM607 468h2v1h-2zM606 469h2v1h-2zM606 470h2v1h-2zM614 463h4v1h-4zM613 464h2v1h-2zM617 464h2v1h-2zM613 465h2v1h-2zM617 465h2v1h-2zM613 466h2v1h-2zM616 466h3v1h-3zM613 467h3v1h-3zM617 467h2v1h-2zM613 468h2v1h-2zM617 468h2v1h-2zM613 469h2v1h-2zM617 469h2v1h-2zM614 470h4v1h-4zM622 463h2v1h-2zM621 464h3v1h-3zM620 465h4v1h-4zM622 466h2v1h-2zM622 467h2v1h-2zM622 468h2v1h-2zM622 469h2v1h-2zM620 470h6v1h-6zM631 462h2v1h-2zM631 463h2v1h-2zM630 464h2v1h-2zM630 465h2v1h-2zM629 466h2v1h-2zM628 467h2v1h-2zM628 468h2v1h-2zM627 469h2v1h-2zM627 470h2v1h-2zM636 463h2v1h-2zM635 464h3v1h-3zM634 465h4v1h-4zM636 466h2v1h-2zM636 467h2v1h-2zM636 468h2v1h-2zM636 469h2v1h-2zM634 470h6v1h-6zM645 463h2v1h-2zM644 464h3v1h-3zM643 465h4v1h-4zM642 466h2v1h-2zM645 466h2v1h-2zM641 467h2v1h-2zM645 467h2v1h-2zM641 468h6v1h-6zM645 469h2v1h-2zM645 470h2v1h-2zM672 463h4v1h-4zM671 464h2v1h-2zM675 464h2v1h-2zM671 465h2v1h-2zM675 465h2v1h-2zM671 466h2v1h-2zM674 466h3v1h-3zM671 467h3v1h-3zM675 467h2v1h-2zM671 468h2v1h-2zM675 468h2v1h-2zM671 469h2v1h-2zM675 469h2v1h-2zM672 470h4v1h-4zM680 463h2v1h-2zM679 464h3v1h-3zM678 465h4v1h-4zM680 466h2v1h-2zM680 467h2v1h-2zM680 468h2v1h-2zM680 469h2v1h-2zM678 470h6v1h-6zM689 462h2v1h-2zM689 463h2v1h-2zM688 464h2v1h-2zM688 465h2v1h-2zM687 466h2v1h-2zM686 467h2v1h-2zM686 468h2v1h-2zM685 469h2v1h-2zM685 470h2v1h-2zM693 463h4v1h-4zM692 464h2v1h-2zM696 464h2v1h-2zM692 465h2v1h-2zM696 465h2v1h-2zM692 466h2v1h-2zM695 466h3v1h-3zM692 467h3v1h-3zM696 467h2v1h-2zM692 468h2v1h-2zM696 468h2v1h-2zM692 469h2v1h-2zM696 469h2v1h-2zM693 470h4v1h-4zM701 463h2v1h-2zM700 464h3v1h-3zM699 465h4v1h-4zM701 466h2v1h-2zM701 467h2v1h-2zM701 468h2v1h-2zM701 469h2v1h-2zM699 470h6v1h-6zM710 462h2v1h-2zM710 463h2v1h-2zM709 464h2v1h-2zM709 465h2v1h-2zM708 466h2v1h-2zM707 467h2v1h-2zM707 468h2v1h-2zM706 469h2v1h-2zM706 470h2v1h-2zM715 463h2v1h-2zM714 464h3v1h-3zM713 465h4v1h-4zM715 466h2v1h-2zM715 467h2v1h-2zM715 468h2v1h-2zM715 469h2v1h-2zM713 470h6v1h-6zM720 463h6v1h-6zM720 464h2v1h-2zM720 465h5v1h-5zM720 466h3v1h-3zM724 466h2v1h-2zM724 467h2v1h-2zM724 468h2v1h-2zM720 469h2v1h-2zM724 469h2v1h-2zM721 470h4v1h-4zM752 463h4v1h-4zM751 464h2v1h-2zM755 464h2v1h-2zM751 465h2v1h-2zM755 465h2v1h-2zM751 466h2v1h-2zM754 466h3v1h-3zM751 467h3v1h-3zM755 467h2v1h-2zM751 468h2v1h-2zM755 468h2v1h-2zM751 469h2v1h-2zM755 469h2v1h-2zM752 470h4v1h-4zM760 463h2v1h-2zM759 464h3v1h-3zM758 465h4v1h-4zM760 466h2v1h-2zM760 467h2v1h-2zM760 468h2v1h-2zM760 469h2v1h-2zM758 470h6v1h-6zM769 462h2v1h-2zM769 463h2v1h-2zM768 464h2v1h-2zM768 465h2v1h-2zM767 466h2v1h-2zM766 467h2v1h-2zM766 468h2v1h-2zM765 469h2v1h-2zM765 470h2v1h-2zM773 463h4v1h-4zM772 464h2v1h-2zM776 464h2v1h-2zM772 465h2v1h-2zM776 465h2v1h-2zM772 466h2v1h-2zM775 466h3v1h-3zM772 467h3v1h-3zM776 467h2v1h-2zM772 468h2v1h-2zM776 468h2v1h-2zM772 469h2v1h-2zM776 469h2v1h-2zM773 470h4v1h-4zM781 463h2v1h-2zM780 464h3v1h-3zM779 465h4v1h-4zM781 466h2v1h-2zM781 467h2v1h-2zM781 468h2v1h-2zM781 469h2v1h-2zM779 470h6v1h-6zM790 462h2v1h-2zM790 463h2v1h-2zM789 464h2v1h-2zM789 465h2v1h-2zM788 466h2v1h-2zM787 467h2v1h-2zM787 468h2v1h-2zM786 469h2v1h-2zM786 470h2v1h-2zM795 463h2v1h-2zM794 464h3v1h-3zM793 465h4v1h-4zM795 466h2v1h-2zM795 467h2v1h-2zM795 468h2v1h-2zM795 469h2v1h-2zM793 470h6v1h-6zM801 463h4v1h-4zM800 464h2v1h-2zM804 464h2v1h-2zM800 465h2v1h-2zM800 466h5v1h-5zM800 467h2v1h-2zM804 467h2v1h-2zM800 468h2v1h-2zM804 468h2v1h-2zM800 469h2v1h-2zM804 469h2v1h-2zM801 470h4v1h-4zM11 248h1v1h-1zM11 247h1v1h-1zM11 246h1v1h-1zM11 245h1v1h-1zM12 249h1v1h-1zM12 248h1v1h-1zM12 245h1v1h-1zM12 244h1v1h-1zM13 248h1v1h-1zM13 247h1v1h-1zM14 246h1v1h-1zM14 245h1v1h-1zM15 249h1v1h-1zM15 248h1v1h-1zM15 245h1v1h-1zM15 244h1v1h-1zM16 248h1v1h-1zM16 247h1v1h-1zM16 246h1v1h-1zM16 245h1v1h-1z" fill="#000" shape-rendering="crispEdges"/>
</svg>
</body></html>
